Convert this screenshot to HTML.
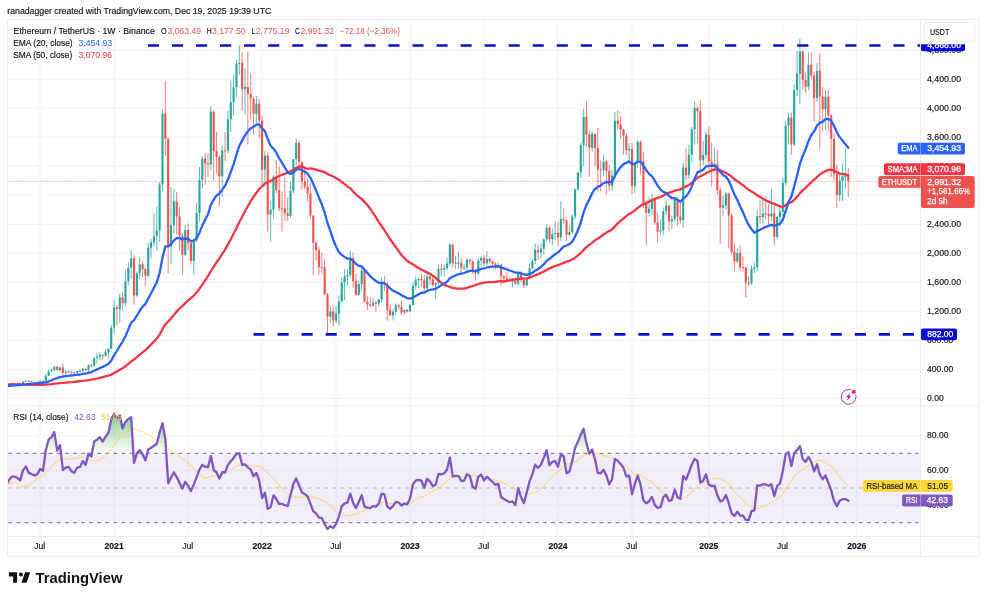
<!DOCTYPE html>
<html><head><meta charset="utf-8"><title>ETHUSDT chart</title><style>html,body{margin:0;padding:0;background:#fff}svg{display:block}</style></head><body>
<svg width="986" height="600" viewBox="0 0 986 600" font-family="'Liberation Sans', sans-serif">
<defs><clipPath id="cm"><rect x="7.5" y="19.5" width="913" height="386.5"/></clipPath>
<clipPath id="cr"><rect x="7.5" y="406" width="913" height="130.5"/></clipPath>
<linearGradient id="gg" gradientUnits="userSpaceOnUse" x1="0" y1="401.5" x2="0" y2="453.4"><stop offset="0" stop-color="#4caf50" stop-opacity="0.85"/><stop offset="1" stop-color="#4caf50" stop-opacity="0"/></linearGradient>
<clipPath id="ca"><rect x="900" y="44.2" width="86" height="40"/></clipPath>
</defs>
<rect width="986" height="600" fill="#fff"/>
<line x1="40.1" y1="19.5" x2="40.1" y2="536.5" stroke="#f2f3f6" stroke-width="1"/>
<line x1="114.1" y1="19.5" x2="114.1" y2="536.5" stroke="#f2f3f6" stroke-width="1"/>
<line x1="188.1" y1="19.5" x2="188.1" y2="536.5" stroke="#f2f3f6" stroke-width="1"/>
<line x1="262.1" y1="19.5" x2="262.1" y2="536.5" stroke="#f2f3f6" stroke-width="1"/>
<line x1="336.1" y1="19.5" x2="336.1" y2="536.5" stroke="#f2f3f6" stroke-width="1"/>
<line x1="410.0" y1="19.5" x2="410.0" y2="536.5" stroke="#f2f3f6" stroke-width="1"/>
<line x1="484.0" y1="19.5" x2="484.0" y2="536.5" stroke="#f2f3f6" stroke-width="1"/>
<line x1="558.0" y1="19.5" x2="558.0" y2="536.5" stroke="#f2f3f6" stroke-width="1"/>
<line x1="632.0" y1="19.5" x2="632.0" y2="536.5" stroke="#f2f3f6" stroke-width="1"/>
<line x1="708.8" y1="19.5" x2="708.8" y2="536.5" stroke="#f2f3f6" stroke-width="1"/>
<line x1="782.8" y1="19.5" x2="782.8" y2="536.5" stroke="#f2f3f6" stroke-width="1"/>
<line x1="856.8" y1="19.5" x2="856.8" y2="536.5" stroke="#f2f3f6" stroke-width="1"/>
<line x1="7.5" y1="398.4" x2="920.5" y2="398.4" stroke="#f2f3f6" stroke-width="1"/>
<line x1="7.5" y1="369.4" x2="920.5" y2="369.4" stroke="#f2f3f6" stroke-width="1"/>
<line x1="7.5" y1="340.4" x2="920.5" y2="340.4" stroke="#f2f3f6" stroke-width="1"/>
<line x1="7.5" y1="311.3" x2="920.5" y2="311.3" stroke="#f2f3f6" stroke-width="1"/>
<line x1="7.5" y1="282.3" x2="920.5" y2="282.3" stroke="#f2f3f6" stroke-width="1"/>
<line x1="7.5" y1="253.3" x2="920.5" y2="253.3" stroke="#f2f3f6" stroke-width="1"/>
<line x1="7.5" y1="224.3" x2="920.5" y2="224.3" stroke="#f2f3f6" stroke-width="1"/>
<line x1="7.5" y1="195.3" x2="920.5" y2="195.3" stroke="#f2f3f6" stroke-width="1"/>
<line x1="7.5" y1="166.2" x2="920.5" y2="166.2" stroke="#f2f3f6" stroke-width="1"/>
<line x1="7.5" y1="137.2" x2="920.5" y2="137.2" stroke="#f2f3f6" stroke-width="1"/>
<line x1="7.5" y1="108.2" x2="920.5" y2="108.2" stroke="#f2f3f6" stroke-width="1"/>
<line x1="7.5" y1="79.2" x2="920.5" y2="79.2" stroke="#f2f3f6" stroke-width="1"/>
<line x1="7.5" y1="50.2" x2="920.5" y2="50.2" stroke="#f2f3f6" stroke-width="1"/>
<line x1="7.5" y1="21.1" x2="920.5" y2="21.1" stroke="#f2f3f6" stroke-width="1"/>
<line x1="7.5" y1="436.1" x2="920.5" y2="436.1" stroke="#f2f3f6" stroke-width="1"/>
<line x1="7.5" y1="470.7" x2="920.5" y2="470.7" stroke="#f2f3f6" stroke-width="1"/>
<line x1="7.5" y1="505.3" x2="920.5" y2="505.3" stroke="#f2f3f6" stroke-width="1"/>
<rect x="7.5" y="453.4" width="913" height="69.2" fill="#7e57c2" fill-opacity="0.1"/>
<line x1="8.3" y1="453.4" x2="918.5" y2="453.4" stroke="#85878f" stroke-width="1.1" stroke-dasharray="3.7 4.4"/>
<line x1="8.3" y1="488.0" x2="918.5" y2="488.0" stroke="#b4b6be" stroke-width="1.1" stroke-dasharray="3.7 4.4"/>
<line x1="8.3" y1="522.6" x2="918.5" y2="522.6" stroke="#85878f" stroke-width="1.1" stroke-dasharray="3.7 4.4"/>
<line x1="7.5" y1="181.4" x2="920.5" y2="181.4" stroke="#ef5350" stroke-width="1" stroke-dasharray="1 2" opacity="0.8"/>
<g clip-path="url(#cm)" shape-rendering="auto">
<path d="M5.97 385.1V387.3" stroke="#26a69a" stroke-width="0.9" opacity="0.85"/>
<rect x="4.92" y="385.3" width="2.1" height="1.7" fill="#26a69a"/>
<path d="M8.81 384.0V386.1" stroke="#26a69a" stroke-width="0.9" opacity="0.85"/>
<rect x="7.76" y="384.1" width="2.1" height="1.2" fill="#26a69a"/>
<path d="M11.66 382.6V384.4" stroke="#26a69a" stroke-width="0.9" opacity="0.85"/>
<rect x="10.61" y="383.2" width="2.1" height="1.0" fill="#26a69a"/>
<path d="M14.50 382.8V383.6" stroke="#26a69a" stroke-width="0.9" opacity="0.85"/>
<rect x="13.45" y="383.2" width="2.1" height="1.0" fill="#26a69a"/>
<path d="M17.35 382.7V383.6" stroke="#ef5350" stroke-width="0.9" opacity="0.85"/>
<rect x="16.30" y="383.2" width="2.1" height="1.0" fill="#ef5350"/>
<path d="M20.20 382.6V384.8" stroke="#ef5350" stroke-width="0.9" opacity="0.85"/>
<rect x="19.15" y="383.4" width="2.1" height="1.0" fill="#ef5350"/>
<path d="M23.04 381.1V384.4" stroke="#26a69a" stroke-width="0.9" opacity="0.85"/>
<rect x="21.99" y="381.6" width="2.1" height="2.2" fill="#26a69a"/>
<path d="M25.89 380.5V381.9" stroke="#26a69a" stroke-width="0.9" opacity="0.85"/>
<rect x="24.84" y="380.7" width="2.1" height="1.0" fill="#26a69a"/>
<path d="M28.73 380.2V382.1" stroke="#ef5350" stroke-width="0.9" opacity="0.85"/>
<rect x="27.68" y="380.7" width="2.1" height="1.0" fill="#ef5350"/>
<path d="M31.58 380.8V382.2" stroke="#ef5350" stroke-width="0.9" opacity="0.85"/>
<rect x="30.53" y="381.6" width="2.1" height="1.0" fill="#ef5350"/>
<path d="M34.42 381.7V383.2" stroke="#ef5350" stroke-width="0.9" opacity="0.85"/>
<rect x="33.37" y="381.9" width="2.1" height="1.0" fill="#ef5350"/>
<path d="M37.27 381.3V382.4" stroke="#26a69a" stroke-width="0.9" opacity="0.85"/>
<rect x="36.22" y="381.9" width="2.1" height="1.0" fill="#26a69a"/>
<path d="M40.11 380.2V382.1" stroke="#26a69a" stroke-width="0.9" opacity="0.85"/>
<rect x="39.06" y="380.8" width="2.1" height="1.0" fill="#26a69a"/>
<path d="M42.96 380.2V382.3" stroke="#ef5350" stroke-width="0.9" opacity="0.85"/>
<rect x="41.91" y="380.8" width="2.1" height="1.0" fill="#ef5350"/>
<path d="M45.81 374.1V381.5" stroke="#26a69a" stroke-width="0.9" opacity="0.85"/>
<rect x="44.76" y="375.8" width="2.1" height="5.2" fill="#26a69a"/>
<path d="M48.65 369.7V376.3" stroke="#26a69a" stroke-width="0.9" opacity="0.85"/>
<rect x="47.60" y="371.4" width="2.1" height="4.4" fill="#26a69a"/>
<path d="M51.50 368.3V371.9" stroke="#26a69a" stroke-width="0.9" opacity="0.85"/>
<rect x="50.45" y="370.1" width="2.1" height="1.3" fill="#26a69a"/>
<path d="M54.34 366.1V371.9" stroke="#26a69a" stroke-width="0.9" opacity="0.85"/>
<rect x="53.29" y="367.0" width="2.1" height="3.1" fill="#26a69a"/>
<path d="M57.19 366.0V370.8" stroke="#ef5350" stroke-width="0.9" opacity="0.85"/>
<rect x="56.14" y="367.0" width="2.1" height="3.0" fill="#ef5350"/>
<path d="M60.03 367.0V371.6" stroke="#26a69a" stroke-width="0.9" opacity="0.85"/>
<rect x="58.98" y="367.3" width="2.1" height="2.7" fill="#26a69a"/>
<path d="M62.88 362.9V375.9" stroke="#ef5350" stroke-width="0.9" opacity="0.85"/>
<rect x="61.83" y="367.3" width="2.1" height="5.4" fill="#ef5350"/>
<path d="M65.72 369.7V375.2" stroke="#26a69a" stroke-width="0.9" opacity="0.85"/>
<rect x="64.67" y="371.8" width="2.1" height="1.0" fill="#26a69a"/>
<path d="M68.57 369.7V372.9" stroke="#26a69a" stroke-width="0.9" opacity="0.85"/>
<rect x="67.52" y="371.5" width="2.1" height="1.0" fill="#26a69a"/>
<path d="M71.42 371.0V375.7" stroke="#ef5350" stroke-width="0.9" opacity="0.85"/>
<rect x="70.37" y="371.5" width="2.1" height="1.0" fill="#ef5350"/>
<path d="M74.26 371.4V374.3" stroke="#ef5350" stroke-width="0.9" opacity="0.85"/>
<rect x="73.21" y="372.5" width="2.1" height="1.0" fill="#ef5350"/>
<path d="M77.11 370.8V374.1" stroke="#26a69a" stroke-width="0.9" opacity="0.85"/>
<rect x="76.06" y="371.2" width="2.1" height="1.7" fill="#26a69a"/>
<path d="M79.95 369.7V372.1" stroke="#26a69a" stroke-width="0.9" opacity="0.85"/>
<rect x="78.90" y="371.0" width="2.1" height="1.0" fill="#26a69a"/>
<path d="M82.80 367.8V371.9" stroke="#26a69a" stroke-width="0.9" opacity="0.85"/>
<rect x="81.75" y="368.9" width="2.1" height="2.0" fill="#26a69a"/>
<path d="M85.64 367.9V371.4" stroke="#ef5350" stroke-width="0.9" opacity="0.85"/>
<rect x="84.59" y="368.9" width="2.1" height="1.0" fill="#ef5350"/>
<path d="M88.49 364.3V371.6" stroke="#26a69a" stroke-width="0.9" opacity="0.85"/>
<rect x="87.44" y="365.5" width="2.1" height="4.2" fill="#26a69a"/>
<path d="M91.34 363.7V367.2" stroke="#ef5350" stroke-width="0.9" opacity="0.85"/>
<rect x="90.29" y="365.5" width="2.1" height="1.0" fill="#ef5350"/>
<path d="M94.18 357.8V366.5" stroke="#26a69a" stroke-width="0.9" opacity="0.85"/>
<rect x="93.13" y="357.9" width="2.1" height="8.1" fill="#26a69a"/>
<path d="M97.03 353.1V363.6" stroke="#26a69a" stroke-width="0.9" opacity="0.85"/>
<rect x="95.98" y="356.7" width="2.1" height="1.2" fill="#26a69a"/>
<path d="M99.87 352.3V359.9" stroke="#26a69a" stroke-width="0.9" opacity="0.85"/>
<rect x="98.82" y="354.8" width="2.1" height="1.9" fill="#26a69a"/>
<path d="M102.72 354.3V359.9" stroke="#ef5350" stroke-width="0.9" opacity="0.85"/>
<rect x="101.67" y="354.8" width="2.1" height="1.0" fill="#ef5350"/>
<path d="M105.56 349.4V356.7" stroke="#26a69a" stroke-width="0.9" opacity="0.85"/>
<rect x="104.51" y="352.1" width="2.1" height="3.6" fill="#26a69a"/>
<path d="M108.41 348.3V358.5" stroke="#26a69a" stroke-width="0.9" opacity="0.85"/>
<rect x="107.36" y="348.9" width="2.1" height="3.2" fill="#26a69a"/>
<path d="M111.25 325.0V349.1" stroke="#26a69a" stroke-width="0.9" opacity="0.85"/>
<rect x="110.20" y="327.7" width="2.1" height="21.3" fill="#26a69a"/>
<path d="M114.10 300.5V333.8" stroke="#26a69a" stroke-width="0.9" opacity="0.85"/>
<rect x="113.05" y="307.3" width="2.1" height="20.3" fill="#26a69a"/>
<path d="M116.95 304.8V325.4" stroke="#ef5350" stroke-width="0.9" opacity="0.85"/>
<rect x="115.90" y="307.3" width="2.1" height="1.7" fill="#ef5350"/>
<path d="M119.79 293.9V322.9" stroke="#26a69a" stroke-width="0.9" opacity="0.85"/>
<rect x="118.74" y="297.4" width="2.1" height="11.7" fill="#26a69a"/>
<path d="M122.64 291.4V310.8" stroke="#ef5350" stroke-width="0.9" opacity="0.85"/>
<rect x="121.59" y="297.4" width="2.1" height="5.8" fill="#ef5350"/>
<path d="M125.48 270.7V306.3" stroke="#26a69a" stroke-width="0.9" opacity="0.85"/>
<rect x="124.43" y="281.3" width="2.1" height="21.9" fill="#26a69a"/>
<path d="M128.33 262.4V285.6" stroke="#26a69a" stroke-width="0.9" opacity="0.85"/>
<rect x="127.28" y="267.8" width="2.1" height="13.5" fill="#26a69a"/>
<path d="M131.17 250.3V278.3" stroke="#26a69a" stroke-width="0.9" opacity="0.85"/>
<rect x="130.12" y="258.2" width="2.1" height="9.6" fill="#26a69a"/>
<path d="M134.02 255.1V304.6" stroke="#ef5350" stroke-width="0.9" opacity="0.85"/>
<rect x="132.97" y="258.2" width="2.1" height="37.3" fill="#ef5350"/>
<path d="M136.86 271.4V296.8" stroke="#26a69a" stroke-width="0.9" opacity="0.85"/>
<rect x="135.81" y="273.2" width="2.1" height="22.3" fill="#26a69a"/>
<path d="M139.71 257.4V279.4" stroke="#26a69a" stroke-width="0.9" opacity="0.85"/>
<rect x="138.66" y="264.3" width="2.1" height="8.9" fill="#26a69a"/>
<path d="M142.56 260.9V277.2" stroke="#ef5350" stroke-width="0.9" opacity="0.85"/>
<rect x="141.51" y="264.3" width="2.1" height="4.7" fill="#ef5350"/>
<path d="M145.40 266.7V286.3" stroke="#ef5350" stroke-width="0.9" opacity="0.85"/>
<rect x="144.35" y="269.0" width="2.1" height="6.7" fill="#ef5350"/>
<path d="M148.25 242.7V277.2" stroke="#26a69a" stroke-width="0.9" opacity="0.85"/>
<rect x="147.20" y="247.9" width="2.1" height="27.9" fill="#26a69a"/>
<path d="M151.09 238.8V258.4" stroke="#26a69a" stroke-width="0.9" opacity="0.85"/>
<rect x="150.04" y="242.3" width="2.1" height="5.5" fill="#26a69a"/>
<path d="M153.94 213.5V246.0" stroke="#26a69a" stroke-width="0.9" opacity="0.85"/>
<rect x="152.89" y="236.2" width="2.1" height="6.2" fill="#26a69a"/>
<path d="M156.78 206.5V250.4" stroke="#26a69a" stroke-width="0.9" opacity="0.85"/>
<rect x="155.73" y="230.4" width="2.1" height="5.8" fill="#26a69a"/>
<path d="M159.63 181.8V241.7" stroke="#26a69a" stroke-width="0.9" opacity="0.85"/>
<rect x="158.58" y="184.4" width="2.1" height="46.0" fill="#26a69a"/>
<path d="M162.48 109.4V191.6" stroke="#26a69a" stroke-width="0.9" opacity="0.85"/>
<rect x="161.43" y="113.7" width="2.1" height="70.7" fill="#26a69a"/>
<path d="M165.32 81.2V156.1" stroke="#ef5350" stroke-width="0.9" opacity="0.85"/>
<rect x="164.27" y="113.7" width="2.1" height="25.0" fill="#ef5350"/>
<path d="M168.17 137.9V273.0" stroke="#ef5350" stroke-width="0.9" opacity="0.85"/>
<rect x="167.12" y="138.7" width="2.1" height="107.7" fill="#ef5350"/>
<path d="M171.01 187.3V264.5" stroke="#26a69a" stroke-width="0.9" opacity="0.85"/>
<rect x="169.96" y="225.4" width="2.1" height="21.0" fill="#26a69a"/>
<path d="M173.86 188.7V233.7" stroke="#26a69a" stroke-width="0.9" opacity="0.85"/>
<rect x="172.81" y="201.6" width="2.1" height="23.7" fill="#26a69a"/>
<path d="M176.70 192.0V234.4" stroke="#ef5350" stroke-width="0.9" opacity="0.85"/>
<rect x="175.65" y="201.6" width="2.1" height="14.8" fill="#ef5350"/>
<path d="M179.55 206.9V250.4" stroke="#ef5350" stroke-width="0.9" opacity="0.85"/>
<rect x="178.50" y="216.4" width="2.1" height="19.2" fill="#ef5350"/>
<path d="M182.39 233.0V275.1" stroke="#ef5350" stroke-width="0.9" opacity="0.85"/>
<rect x="181.34" y="235.7" width="2.1" height="19.0" fill="#ef5350"/>
<path d="M185.24 225.0V256.2" stroke="#26a69a" stroke-width="0.9" opacity="0.85"/>
<rect x="184.19" y="229.9" width="2.1" height="24.7" fill="#26a69a"/>
<path d="M188.09 223.6V250.0" stroke="#ef5350" stroke-width="0.9" opacity="0.85"/>
<rect x="187.04" y="229.9" width="2.1" height="13.3" fill="#ef5350"/>
<path d="M190.93 241.0V264.5" stroke="#ef5350" stroke-width="0.9" opacity="0.85"/>
<rect x="189.88" y="243.2" width="2.1" height="17.8" fill="#ef5350"/>
<path d="M193.78 238.8V274.6" stroke="#26a69a" stroke-width="0.9" opacity="0.85"/>
<rect x="192.73" y="239.5" width="2.1" height="21.5" fill="#26a69a"/>
<path d="M196.62 202.5V242.4" stroke="#26a69a" stroke-width="0.9" opacity="0.85"/>
<rect x="195.57" y="213.0" width="2.1" height="26.6" fill="#26a69a"/>
<path d="M199.47 167.0V221.4" stroke="#26a69a" stroke-width="0.9" opacity="0.85"/>
<rect x="198.42" y="179.9" width="2.1" height="33.1" fill="#26a69a"/>
<path d="M202.31 156.4V188.7" stroke="#26a69a" stroke-width="0.9" opacity="0.85"/>
<rect x="201.26" y="158.5" width="2.1" height="21.4" fill="#26a69a"/>
<path d="M205.16 153.2V184.4" stroke="#ef5350" stroke-width="0.9" opacity="0.85"/>
<rect x="204.11" y="158.5" width="2.1" height="4.9" fill="#ef5350"/>
<path d="M208.00 153.2V177.1" stroke="#ef5350" stroke-width="0.9" opacity="0.85"/>
<rect x="206.95" y="163.4" width="2.1" height="1.0" fill="#ef5350"/>
<path d="M210.85 106.2V170.6" stroke="#26a69a" stroke-width="0.9" opacity="0.85"/>
<rect x="209.80" y="111.8" width="2.1" height="52.6" fill="#26a69a"/>
<path d="M213.70 110.4V180.7" stroke="#ef5350" stroke-width="0.9" opacity="0.85"/>
<rect x="212.65" y="111.8" width="2.1" height="39.4" fill="#ef5350"/>
<path d="M216.54 131.8V173.5" stroke="#ef5350" stroke-width="0.9" opacity="0.85"/>
<rect x="215.49" y="151.2" width="2.1" height="5.7" fill="#ef5350"/>
<path d="M219.39 155.4V206.1" stroke="#ef5350" stroke-width="0.9" opacity="0.85"/>
<rect x="218.34" y="157.0" width="2.1" height="19.4" fill="#ef5350"/>
<path d="M222.23 145.2V196.7" stroke="#26a69a" stroke-width="0.9" opacity="0.85"/>
<rect x="221.18" y="150.4" width="2.1" height="25.9" fill="#26a69a"/>
<path d="M225.08 132.1V161.2" stroke="#ef5350" stroke-width="0.9" opacity="0.85"/>
<rect x="224.03" y="150.4" width="2.1" height="1.0" fill="#ef5350"/>
<path d="M227.92 110.4V153.9" stroke="#26a69a" stroke-width="0.9" opacity="0.85"/>
<rect x="226.87" y="119.3" width="2.1" height="31.3" fill="#26a69a"/>
<path d="M230.77 81.0V131.8" stroke="#26a69a" stroke-width="0.9" opacity="0.85"/>
<rect x="229.72" y="102.2" width="2.1" height="17.1" fill="#26a69a"/>
<path d="M233.62 74.8V116.2" stroke="#26a69a" stroke-width="0.9" opacity="0.85"/>
<rect x="232.57" y="87.3" width="2.1" height="14.9" fill="#26a69a"/>
<path d="M236.46 59.6V97.3" stroke="#26a69a" stroke-width="0.9" opacity="0.85"/>
<rect x="235.41" y="63.5" width="2.1" height="23.8" fill="#26a69a"/>
<path d="M239.31 45.2V74.8" stroke="#26a69a" stroke-width="0.9" opacity="0.85"/>
<rect x="238.26" y="62.8" width="2.1" height="1.0" fill="#26a69a"/>
<path d="M242.15 52.3V111.1" stroke="#ef5350" stroke-width="0.9" opacity="0.85"/>
<rect x="241.10" y="62.8" width="2.1" height="26.4" fill="#ef5350"/>
<path d="M245.00 68.3V114.4" stroke="#26a69a" stroke-width="0.9" opacity="0.85"/>
<rect x="243.95" y="86.9" width="2.1" height="2.3" fill="#26a69a"/>
<path d="M247.84 51.6V144.5" stroke="#ef5350" stroke-width="0.9" opacity="0.85"/>
<rect x="246.79" y="86.9" width="2.1" height="7.1" fill="#ef5350"/>
<path d="M250.69 72.7V119.8" stroke="#ef5350" stroke-width="0.9" opacity="0.85"/>
<rect x="249.64" y="94.0" width="2.1" height="4.5" fill="#ef5350"/>
<path d="M253.53 97.3V134.3" stroke="#ef5350" stroke-width="0.9" opacity="0.85"/>
<rect x="252.48" y="98.5" width="2.1" height="15.4" fill="#ef5350"/>
<path d="M256.38 95.9V126.0" stroke="#26a69a" stroke-width="0.9" opacity="0.85"/>
<rect x="255.33" y="103.6" width="2.1" height="10.2" fill="#26a69a"/>
<path d="M259.23 98.8V138.3" stroke="#ef5350" stroke-width="0.9" opacity="0.85"/>
<rect x="258.18" y="103.6" width="2.1" height="17.0" fill="#ef5350"/>
<path d="M262.07 115.5V185.8" stroke="#ef5350" stroke-width="0.9" opacity="0.85"/>
<rect x="261.02" y="120.6" width="2.1" height="49.1" fill="#ef5350"/>
<path d="M264.92 151.0V186.2" stroke="#26a69a" stroke-width="0.9" opacity="0.85"/>
<rect x="263.87" y="155.6" width="2.1" height="14.1" fill="#26a69a"/>
<path d="M267.76 152.5V231.5" stroke="#ef5350" stroke-width="0.9" opacity="0.85"/>
<rect x="266.71" y="155.6" width="2.1" height="58.9" fill="#ef5350"/>
<path d="M270.61 200.7V241.7" stroke="#26a69a" stroke-width="0.9" opacity="0.85"/>
<rect x="269.56" y="209.7" width="2.1" height="4.8" fill="#26a69a"/>
<path d="M273.45 174.9V218.5" stroke="#26a69a" stroke-width="0.9" opacity="0.85"/>
<rect x="272.40" y="176.6" width="2.1" height="33.1" fill="#26a69a"/>
<path d="M276.30 160.1V193.4" stroke="#ef5350" stroke-width="0.9" opacity="0.85"/>
<rect x="275.25" y="176.6" width="2.1" height="13.6" fill="#ef5350"/>
<path d="M279.14 166.2V211.2" stroke="#ef5350" stroke-width="0.9" opacity="0.85"/>
<rect x="278.09" y="190.2" width="2.1" height="18.1" fill="#ef5350"/>
<path d="M281.99 191.6V231.5" stroke="#ef5350" stroke-width="0.9" opacity="0.85"/>
<rect x="280.94" y="208.2" width="2.1" height="1.0" fill="#ef5350"/>
<path d="M284.84 177.8V221.0" stroke="#ef5350" stroke-width="0.9" opacity="0.85"/>
<rect x="283.79" y="208.5" width="2.1" height="4.9" fill="#ef5350"/>
<path d="M287.68 197.1V221.0" stroke="#ef5350" stroke-width="0.9" opacity="0.85"/>
<rect x="286.63" y="213.4" width="2.1" height="2.5" fill="#ef5350"/>
<path d="M290.53 181.8V217.8" stroke="#26a69a" stroke-width="0.9" opacity="0.85"/>
<rect x="289.48" y="190.9" width="2.1" height="25.0" fill="#26a69a"/>
<path d="M293.37 159.0V193.1" stroke="#26a69a" stroke-width="0.9" opacity="0.85"/>
<rect x="292.32" y="159.3" width="2.1" height="31.6" fill="#26a69a"/>
<path d="M296.22 138.7V165.5" stroke="#26a69a" stroke-width="0.9" opacity="0.85"/>
<rect x="295.17" y="143.0" width="2.1" height="16.3" fill="#26a69a"/>
<path d="M299.06 140.8V170.6" stroke="#ef5350" stroke-width="0.9" opacity="0.85"/>
<rect x="298.01" y="143.0" width="2.1" height="18.8" fill="#ef5350"/>
<path d="M301.91 161.5V189.5" stroke="#ef5350" stroke-width="0.9" opacity="0.85"/>
<rect x="300.86" y="161.8" width="2.1" height="19.8" fill="#ef5350"/>
<path d="M304.76 167.7V189.5" stroke="#ef5350" stroke-width="0.9" opacity="0.85"/>
<rect x="303.71" y="181.6" width="2.1" height="4.9" fill="#ef5350"/>
<path d="M307.60 177.8V201.4" stroke="#ef5350" stroke-width="0.9" opacity="0.85"/>
<rect x="306.55" y="186.6" width="2.1" height="6.9" fill="#ef5350"/>
<path d="M310.45 183.3V218.1" stroke="#ef5350" stroke-width="0.9" opacity="0.85"/>
<rect x="309.40" y="193.4" width="2.1" height="22.3" fill="#ef5350"/>
<path d="M313.29 214.8V275.1" stroke="#ef5350" stroke-width="0.9" opacity="0.85"/>
<rect x="312.24" y="215.8" width="2.1" height="27.1" fill="#ef5350"/>
<path d="M316.14 241.7V260.6" stroke="#ef5350" stroke-width="0.9" opacity="0.85"/>
<rect x="315.09" y="242.9" width="2.1" height="7.4" fill="#ef5350"/>
<path d="M318.98 246.8V275.1" stroke="#ef5350" stroke-width="0.9" opacity="0.85"/>
<rect x="317.93" y="250.3" width="2.1" height="16.7" fill="#ef5350"/>
<path d="M321.83 252.2V273.6" stroke="#ef5350" stroke-width="0.9" opacity="0.85"/>
<rect x="320.78" y="267.0" width="2.1" height="1.0" fill="#ef5350"/>
<path d="M324.67 259.1V295.4" stroke="#ef5350" stroke-width="0.9" opacity="0.85"/>
<rect x="323.62" y="267.5" width="2.1" height="26.9" fill="#ef5350"/>
<path d="M327.52 292.8V334.4" stroke="#ef5350" stroke-width="0.9" opacity="0.85"/>
<rect x="326.47" y="294.4" width="2.1" height="22.2" fill="#ef5350"/>
<path d="M330.37 305.5V322.6" stroke="#26a69a" stroke-width="0.9" opacity="0.85"/>
<rect x="329.32" y="311.5" width="2.1" height="5.2" fill="#26a69a"/>
<path d="M333.21 305.5V326.2" stroke="#ef5350" stroke-width="0.9" opacity="0.85"/>
<rect x="332.16" y="311.5" width="2.1" height="9.1" fill="#ef5350"/>
<path d="M336.06 305.9V322.9" stroke="#26a69a" stroke-width="0.9" opacity="0.85"/>
<rect x="335.01" y="313.7" width="2.1" height="6.8" fill="#26a69a"/>
<path d="M338.90 295.4V325.5" stroke="#26a69a" stroke-width="0.9" opacity="0.85"/>
<rect x="337.85" y="301.3" width="2.1" height="12.4" fill="#26a69a"/>
<path d="M341.75 277.6V302.6" stroke="#26a69a" stroke-width="0.9" opacity="0.85"/>
<rect x="340.70" y="282.5" width="2.1" height="18.9" fill="#26a69a"/>
<path d="M344.59 268.9V300.1" stroke="#26a69a" stroke-width="0.9" opacity="0.85"/>
<rect x="343.54" y="276.5" width="2.1" height="5.9" fill="#26a69a"/>
<path d="M347.44 268.9V285.6" stroke="#26a69a" stroke-width="0.9" opacity="0.85"/>
<rect x="346.39" y="275.1" width="2.1" height="1.5" fill="#26a69a"/>
<path d="M350.28 251.1V277.6" stroke="#26a69a" stroke-width="0.9" opacity="0.85"/>
<rect x="349.23" y="258.0" width="2.1" height="17.0" fill="#26a69a"/>
<path d="M353.13 252.6V287.8" stroke="#ef5350" stroke-width="0.9" opacity="0.85"/>
<rect x="352.08" y="258.0" width="2.1" height="23.0" fill="#ef5350"/>
<path d="M355.98 273.6V295.4" stroke="#ef5350" stroke-width="0.9" opacity="0.85"/>
<rect x="354.93" y="281.0" width="2.1" height="13.8" fill="#ef5350"/>
<path d="M358.82 280.9V295.4" stroke="#26a69a" stroke-width="0.9" opacity="0.85"/>
<rect x="357.77" y="284.0" width="2.1" height="10.8" fill="#26a69a"/>
<path d="M361.67 268.5V290.3" stroke="#26a69a" stroke-width="0.9" opacity="0.85"/>
<rect x="360.62" y="270.6" width="2.1" height="13.3" fill="#26a69a"/>
<path d="M364.51 269.3V302.6" stroke="#ef5350" stroke-width="0.9" opacity="0.85"/>
<rect x="363.46" y="270.6" width="2.1" height="31.0" fill="#ef5350"/>
<path d="M367.36 296.1V309.9" stroke="#ef5350" stroke-width="0.9" opacity="0.85"/>
<rect x="366.31" y="301.6" width="2.1" height="2.9" fill="#ef5350"/>
<path d="M370.20 296.8V307.3" stroke="#ef5350" stroke-width="0.9" opacity="0.85"/>
<rect x="369.15" y="304.5" width="2.1" height="1.3" fill="#ef5350"/>
<path d="M373.05 297.9V306.6" stroke="#26a69a" stroke-width="0.9" opacity="0.85"/>
<rect x="372.00" y="302.5" width="2.1" height="3.3" fill="#26a69a"/>
<path d="M375.90 300.8V312.1" stroke="#ef5350" stroke-width="0.9" opacity="0.85"/>
<rect x="374.85" y="302.5" width="2.1" height="1.2" fill="#ef5350"/>
<path d="M378.74 298.6V307.0" stroke="#26a69a" stroke-width="0.9" opacity="0.85"/>
<rect x="377.69" y="299.5" width="2.1" height="4.1" fill="#26a69a"/>
<path d="M381.59 277.6V302.6" stroke="#26a69a" stroke-width="0.9" opacity="0.85"/>
<rect x="380.54" y="283.0" width="2.1" height="16.5" fill="#26a69a"/>
<path d="M384.43 276.5V291.0" stroke="#ef5350" stroke-width="0.9" opacity="0.85"/>
<rect x="383.38" y="283.0" width="2.1" height="1.5" fill="#ef5350"/>
<path d="M387.28 281.6V320.6" stroke="#ef5350" stroke-width="0.9" opacity="0.85"/>
<rect x="386.23" y="284.5" width="2.1" height="25.2" fill="#ef5350"/>
<path d="M390.12 304.8V315.5" stroke="#ef5350" stroke-width="0.9" opacity="0.85"/>
<rect x="389.07" y="309.7" width="2.1" height="5.8" fill="#ef5350"/>
<path d="M392.97 309.2V320.4" stroke="#26a69a" stroke-width="0.9" opacity="0.85"/>
<rect x="391.92" y="311.7" width="2.1" height="3.8" fill="#26a69a"/>
<path d="M395.81 303.4V315.0" stroke="#26a69a" stroke-width="0.9" opacity="0.85"/>
<rect x="394.76" y="305.5" width="2.1" height="6.2" fill="#26a69a"/>
<path d="M398.66 303.7V310.3" stroke="#ef5350" stroke-width="0.9" opacity="0.85"/>
<rect x="397.61" y="305.5" width="2.1" height="1.2" fill="#ef5350"/>
<path d="M401.51 300.5V315.0" stroke="#ef5350" stroke-width="0.9" opacity="0.85"/>
<rect x="400.46" y="306.8" width="2.1" height="5.7" fill="#ef5350"/>
<path d="M404.35 309.2V315.0" stroke="#26a69a" stroke-width="0.9" opacity="0.85"/>
<rect x="403.30" y="310.0" width="2.1" height="2.5" fill="#26a69a"/>
<path d="M407.20 308.8V312.8" stroke="#ef5350" stroke-width="0.9" opacity="0.85"/>
<rect x="406.15" y="310.0" width="2.1" height="1.3" fill="#ef5350"/>
<path d="M410.04 304.4V312.1" stroke="#26a69a" stroke-width="0.9" opacity="0.85"/>
<rect x="408.99" y="305.0" width="2.1" height="6.3" fill="#26a69a"/>
<path d="M412.89 282.3V305.5" stroke="#26a69a" stroke-width="0.9" opacity="0.85"/>
<rect x="411.84" y="285.8" width="2.1" height="19.2" fill="#26a69a"/>
<path d="M415.73 276.5V289.6" stroke="#26a69a" stroke-width="0.9" opacity="0.85"/>
<rect x="414.68" y="280.4" width="2.1" height="5.4" fill="#26a69a"/>
<path d="M418.58 277.6V288.1" stroke="#26a69a" stroke-width="0.9" opacity="0.85"/>
<rect x="417.53" y="279.1" width="2.1" height="1.3" fill="#26a69a"/>
<path d="M421.42 274.0V287.0" stroke="#ef5350" stroke-width="0.9" opacity="0.85"/>
<rect x="420.37" y="279.1" width="2.1" height="1.0" fill="#ef5350"/>
<path d="M424.27 275.1V290.3" stroke="#ef5350" stroke-width="0.9" opacity="0.85"/>
<rect x="423.22" y="280.1" width="2.1" height="8.4" fill="#ef5350"/>
<path d="M427.12 271.8V292.5" stroke="#26a69a" stroke-width="0.9" opacity="0.85"/>
<rect x="426.07" y="276.4" width="2.1" height="12.0" fill="#26a69a"/>
<path d="M429.96 273.6V285.2" stroke="#ef5350" stroke-width="0.9" opacity="0.85"/>
<rect x="428.91" y="276.4" width="2.1" height="3.0" fill="#ef5350"/>
<path d="M432.81 275.8V286.7" stroke="#ef5350" stroke-width="0.9" opacity="0.85"/>
<rect x="431.76" y="279.4" width="2.1" height="5.5" fill="#ef5350"/>
<path d="M435.65 282.3V299.0" stroke="#26a69a" stroke-width="0.9" opacity="0.85"/>
<rect x="434.60" y="283.0" width="2.1" height="1.9" fill="#26a69a"/>
<path d="M438.50 264.5V284.5" stroke="#26a69a" stroke-width="0.9" opacity="0.85"/>
<rect x="437.45" y="268.9" width="2.1" height="14.1" fill="#26a69a"/>
<path d="M441.34 263.5V276.5" stroke="#ef5350" stroke-width="0.9" opacity="0.85"/>
<rect x="440.29" y="268.9" width="2.1" height="1.0" fill="#ef5350"/>
<path d="M444.19 264.2V276.2" stroke="#26a69a" stroke-width="0.9" opacity="0.85"/>
<rect x="443.14" y="268.2" width="2.1" height="1.5" fill="#26a69a"/>
<path d="M447.04 257.3V270.3" stroke="#26a69a" stroke-width="0.9" opacity="0.85"/>
<rect x="445.99" y="263.5" width="2.1" height="4.7" fill="#26a69a"/>
<path d="M449.88 243.1V266.0" stroke="#26a69a" stroke-width="0.9" opacity="0.85"/>
<rect x="448.83" y="244.6" width="2.1" height="18.9" fill="#26a69a"/>
<path d="M452.73 243.9V267.8" stroke="#ef5350" stroke-width="0.9" opacity="0.85"/>
<rect x="451.68" y="244.6" width="2.1" height="18.7" fill="#ef5350"/>
<path d="M455.57 255.8V268.9" stroke="#26a69a" stroke-width="0.9" opacity="0.85"/>
<rect x="454.52" y="262.7" width="2.1" height="1.0" fill="#26a69a"/>
<path d="M458.42 251.8V268.9" stroke="#26a69a" stroke-width="0.9" opacity="0.85"/>
<rect x="457.37" y="262.7" width="2.1" height="1.0" fill="#26a69a"/>
<path d="M461.26 258.7V272.2" stroke="#ef5350" stroke-width="0.9" opacity="0.85"/>
<rect x="460.21" y="262.7" width="2.1" height="5.2" fill="#ef5350"/>
<path d="M464.11 264.2V270.0" stroke="#26a69a" stroke-width="0.9" opacity="0.85"/>
<rect x="463.06" y="267.4" width="2.1" height="1.0" fill="#26a69a"/>
<path d="M466.95 258.4V270.7" stroke="#26a69a" stroke-width="0.9" opacity="0.85"/>
<rect x="465.90" y="259.8" width="2.1" height="7.6" fill="#26a69a"/>
<path d="M469.80 258.7V264.9" stroke="#ef5350" stroke-width="0.9" opacity="0.85"/>
<rect x="468.75" y="259.8" width="2.1" height="1.5" fill="#ef5350"/>
<path d="M472.65 260.6V273.6" stroke="#ef5350" stroke-width="0.9" opacity="0.85"/>
<rect x="471.60" y="261.3" width="2.1" height="10.0" fill="#ef5350"/>
<path d="M475.49 269.3V280.5" stroke="#ef5350" stroke-width="0.9" opacity="0.85"/>
<rect x="474.44" y="271.3" width="2.1" height="2.3" fill="#ef5350"/>
<path d="M478.34 258.0V275.1" stroke="#26a69a" stroke-width="0.9" opacity="0.85"/>
<rect x="477.29" y="260.6" width="2.1" height="13.1" fill="#26a69a"/>
<path d="M481.18 256.2V266.7" stroke="#26a69a" stroke-width="0.9" opacity="0.85"/>
<rect x="480.13" y="257.9" width="2.1" height="2.7" fill="#26a69a"/>
<path d="M484.03 255.1V266.0" stroke="#ef5350" stroke-width="0.9" opacity="0.85"/>
<rect x="482.98" y="257.9" width="2.1" height="5.4" fill="#ef5350"/>
<path d="M486.87 251.1V264.9" stroke="#26a69a" stroke-width="0.9" opacity="0.85"/>
<rect x="485.82" y="259.0" width="2.1" height="4.3" fill="#26a69a"/>
<path d="M489.72 257.3V263.1" stroke="#ef5350" stroke-width="0.9" opacity="0.85"/>
<rect x="488.67" y="259.0" width="2.1" height="2.3" fill="#ef5350"/>
<path d="M492.56 260.2V265.6" stroke="#ef5350" stroke-width="0.9" opacity="0.85"/>
<rect x="491.51" y="261.3" width="2.1" height="2.2" fill="#ef5350"/>
<path d="M495.41 262.0V269.3" stroke="#ef5350" stroke-width="0.9" opacity="0.85"/>
<rect x="494.36" y="263.5" width="2.1" height="2.4" fill="#ef5350"/>
<path d="M498.26 262.4V267.8" stroke="#26a69a" stroke-width="0.9" opacity="0.85"/>
<rect x="497.21" y="264.9" width="2.1" height="1.0" fill="#26a69a"/>
<path d="M501.10 263.5V285.9" stroke="#ef5350" stroke-width="0.9" opacity="0.85"/>
<rect x="500.05" y="264.9" width="2.1" height="11.3" fill="#ef5350"/>
<path d="M503.95 275.1V284.1" stroke="#ef5350" stroke-width="0.9" opacity="0.85"/>
<rect x="502.90" y="276.2" width="2.1" height="2.0" fill="#ef5350"/>
<path d="M506.79 271.8V282.3" stroke="#ef5350" stroke-width="0.9" opacity="0.85"/>
<rect x="505.74" y="278.2" width="2.1" height="1.5" fill="#ef5350"/>
<path d="M509.64 277.2V282.3" stroke="#ef5350" stroke-width="0.9" opacity="0.85"/>
<rect x="508.59" y="279.7" width="2.1" height="1.4" fill="#ef5350"/>
<path d="M512.48 278.0V287.4" stroke="#26a69a" stroke-width="0.9" opacity="0.85"/>
<rect x="511.43" y="280.7" width="2.1" height="1.0" fill="#26a69a"/>
<path d="M515.33 277.2V284.9" stroke="#ef5350" stroke-width="0.9" opacity="0.85"/>
<rect x="514.28" y="280.7" width="2.1" height="3.0" fill="#ef5350"/>
<path d="M518.18 271.4V285.2" stroke="#26a69a" stroke-width="0.9" opacity="0.85"/>
<rect x="517.13" y="272.6" width="2.1" height="11.1" fill="#26a69a"/>
<path d="M521.02 271.1V282.0" stroke="#ef5350" stroke-width="0.9" opacity="0.85"/>
<rect x="519.97" y="272.6" width="2.1" height="7.3" fill="#ef5350"/>
<path d="M523.87 279.4V288.1" stroke="#ef5350" stroke-width="0.9" opacity="0.85"/>
<rect x="522.82" y="279.9" width="2.1" height="5.5" fill="#ef5350"/>
<path d="M526.71 277.2V286.3" stroke="#26a69a" stroke-width="0.9" opacity="0.85"/>
<rect x="525.66" y="277.7" width="2.1" height="7.7" fill="#26a69a"/>
<path d="M529.56 263.1V278.0" stroke="#26a69a" stroke-width="0.9" opacity="0.85"/>
<rect x="528.51" y="268.2" width="2.1" height="9.5" fill="#26a69a"/>
<path d="M532.40 259.5V269.3" stroke="#26a69a" stroke-width="0.9" opacity="0.85"/>
<rect x="531.35" y="260.9" width="2.1" height="7.3" fill="#26a69a"/>
<path d="M535.25 243.5V264.2" stroke="#26a69a" stroke-width="0.9" opacity="0.85"/>
<rect x="534.20" y="250.0" width="2.1" height="10.9" fill="#26a69a"/>
<path d="M538.09 244.6V260.2" stroke="#ef5350" stroke-width="0.9" opacity="0.85"/>
<rect x="537.04" y="250.0" width="2.1" height="2.4" fill="#ef5350"/>
<path d="M540.94 243.5V258.4" stroke="#26a69a" stroke-width="0.9" opacity="0.85"/>
<rect x="539.89" y="248.7" width="2.1" height="3.7" fill="#26a69a"/>
<path d="M543.79 238.8V254.4" stroke="#26a69a" stroke-width="0.9" opacity="0.85"/>
<rect x="542.74" y="239.2" width="2.1" height="9.5" fill="#26a69a"/>
<path d="M546.63 224.3V241.3" stroke="#26a69a" stroke-width="0.9" opacity="0.85"/>
<rect x="545.58" y="227.8" width="2.1" height="11.5" fill="#26a69a"/>
<path d="M549.48 225.7V242.8" stroke="#ef5350" stroke-width="0.9" opacity="0.85"/>
<rect x="548.43" y="227.8" width="2.1" height="11.4" fill="#ef5350"/>
<path d="M552.32 228.3V245.0" stroke="#26a69a" stroke-width="0.9" opacity="0.85"/>
<rect x="551.27" y="234.0" width="2.1" height="5.2" fill="#26a69a"/>
<path d="M555.17 221.0V240.2" stroke="#26a69a" stroke-width="0.9" opacity="0.85"/>
<rect x="554.12" y="233.0" width="2.1" height="1.0" fill="#26a69a"/>
<path d="M558.01 222.1V246.0" stroke="#ef5350" stroke-width="0.9" opacity="0.85"/>
<rect x="556.96" y="233.0" width="2.1" height="4.2" fill="#ef5350"/>
<path d="M560.86 201.4V241.3" stroke="#26a69a" stroke-width="0.9" opacity="0.85"/>
<rect x="559.81" y="219.0" width="2.1" height="18.2" fill="#26a69a"/>
<path d="M563.70 208.7V223.6" stroke="#ef5350" stroke-width="0.9" opacity="0.85"/>
<rect x="562.65" y="219.0" width="2.1" height="1.4" fill="#ef5350"/>
<path d="M566.55 219.6V241.3" stroke="#ef5350" stroke-width="0.9" opacity="0.85"/>
<rect x="565.50" y="220.4" width="2.1" height="14.3" fill="#ef5350"/>
<path d="M569.40 225.0V236.3" stroke="#26a69a" stroke-width="0.9" opacity="0.85"/>
<rect x="568.35" y="232.3" width="2.1" height="2.4" fill="#26a69a"/>
<path d="M572.24 214.1V234.1" stroke="#26a69a" stroke-width="0.9" opacity="0.85"/>
<rect x="571.19" y="216.5" width="2.1" height="15.7" fill="#26a69a"/>
<path d="M575.09 188.4V219.2" stroke="#26a69a" stroke-width="0.9" opacity="0.85"/>
<rect x="574.04" y="189.5" width="2.1" height="27.1" fill="#26a69a"/>
<path d="M577.93 171.7V190.5" stroke="#26a69a" stroke-width="0.9" opacity="0.85"/>
<rect x="576.88" y="172.6" width="2.1" height="16.8" fill="#26a69a"/>
<path d="M580.78 143.0V178.2" stroke="#26a69a" stroke-width="0.9" opacity="0.85"/>
<rect x="579.73" y="145.2" width="2.1" height="27.4" fill="#26a69a"/>
<path d="M583.62 108.6V166.2" stroke="#26a69a" stroke-width="0.9" opacity="0.85"/>
<rect x="582.57" y="116.9" width="2.1" height="28.3" fill="#26a69a"/>
<path d="M586.47 101.5V147.0" stroke="#ef5350" stroke-width="0.9" opacity="0.85"/>
<rect x="585.42" y="116.9" width="2.1" height="17.4" fill="#ef5350"/>
<path d="M589.32 131.4V176.8" stroke="#ef5350" stroke-width="0.9" opacity="0.85"/>
<rect x="588.27" y="134.3" width="2.1" height="13.4" fill="#ef5350"/>
<path d="M592.16 131.4V151.7" stroke="#26a69a" stroke-width="0.9" opacity="0.85"/>
<rect x="591.11" y="133.8" width="2.1" height="13.9" fill="#26a69a"/>
<path d="M595.01 133.6V166.2" stroke="#ef5350" stroke-width="0.9" opacity="0.85"/>
<rect x="593.96" y="133.8" width="2.1" height="14.1" fill="#ef5350"/>
<path d="M597.85 127.8V191.6" stroke="#ef5350" stroke-width="0.9" opacity="0.85"/>
<rect x="596.80" y="147.9" width="2.1" height="21.6" fill="#ef5350"/>
<path d="M600.70 160.4V191.6" stroke="#ef5350" stroke-width="0.9" opacity="0.85"/>
<rect x="599.65" y="169.5" width="2.1" height="1.0" fill="#ef5350"/>
<path d="M603.54 155.0V175.7" stroke="#26a69a" stroke-width="0.9" opacity="0.85"/>
<rect x="602.49" y="161.7" width="2.1" height="8.4" fill="#26a69a"/>
<path d="M606.39 159.7V194.2" stroke="#ef5350" stroke-width="0.9" opacity="0.85"/>
<rect x="605.34" y="161.7" width="2.1" height="9.1" fill="#ef5350"/>
<path d="M609.23 164.8V190.9" stroke="#ef5350" stroke-width="0.9" opacity="0.85"/>
<rect x="608.18" y="170.8" width="2.1" height="15.0" fill="#ef5350"/>
<path d="M612.08 169.9V190.9" stroke="#26a69a" stroke-width="0.9" opacity="0.85"/>
<rect x="611.03" y="175.6" width="2.1" height="10.2" fill="#26a69a"/>
<path d="M614.93 111.8V177.5" stroke="#26a69a" stroke-width="0.9" opacity="0.85"/>
<rect x="613.88" y="120.8" width="2.1" height="54.8" fill="#26a69a"/>
<path d="M617.77 110.0V130.0" stroke="#ef5350" stroke-width="0.9" opacity="0.85"/>
<rect x="616.72" y="120.8" width="2.1" height="3.3" fill="#ef5350"/>
<path d="M620.62 116.2V139.0" stroke="#ef5350" stroke-width="0.9" opacity="0.85"/>
<rect x="619.57" y="124.2" width="2.1" height="5.4" fill="#ef5350"/>
<path d="M623.46 128.9V154.6" stroke="#ef5350" stroke-width="0.9" opacity="0.85"/>
<rect x="622.41" y="129.5" width="2.1" height="6.2" fill="#ef5350"/>
<path d="M626.31 133.2V155.0" stroke="#ef5350" stroke-width="0.9" opacity="0.85"/>
<rect x="625.26" y="135.8" width="2.1" height="14.5" fill="#ef5350"/>
<path d="M629.15 143.0V163.3" stroke="#26a69a" stroke-width="0.9" opacity="0.85"/>
<rect x="628.10" y="149.0" width="2.1" height="1.3" fill="#26a69a"/>
<path d="M632.00 142.7V194.5" stroke="#ef5350" stroke-width="0.9" opacity="0.85"/>
<rect x="630.95" y="149.0" width="2.1" height="36.9" fill="#ef5350"/>
<path d="M634.84 161.9V193.4" stroke="#26a69a" stroke-width="0.9" opacity="0.85"/>
<rect x="633.79" y="163.0" width="2.1" height="22.9" fill="#26a69a"/>
<path d="M637.69 140.1V167.7" stroke="#26a69a" stroke-width="0.9" opacity="0.85"/>
<rect x="636.64" y="141.9" width="2.1" height="21.0" fill="#26a69a"/>
<path d="M640.54 140.1V174.6" stroke="#ef5350" stroke-width="0.9" opacity="0.85"/>
<rect x="639.49" y="141.9" width="2.1" height="19.2" fill="#ef5350"/>
<path d="M643.38 151.7V207.6" stroke="#ef5350" stroke-width="0.9" opacity="0.85"/>
<rect x="642.33" y="161.2" width="2.1" height="42.2" fill="#ef5350"/>
<path d="M646.23 201.1V245.2" stroke="#ef5350" stroke-width="0.9" opacity="0.85"/>
<rect x="645.18" y="203.4" width="2.1" height="9.6" fill="#ef5350"/>
<path d="M649.07 196.7V216.3" stroke="#26a69a" stroke-width="0.9" opacity="0.85"/>
<rect x="648.02" y="208.8" width="2.1" height="4.2" fill="#26a69a"/>
<path d="M651.92 193.8V214.5" stroke="#26a69a" stroke-width="0.9" opacity="0.85"/>
<rect x="650.87" y="199.2" width="2.1" height="9.6" fill="#26a69a"/>
<path d="M654.76 197.8V224.6" stroke="#ef5350" stroke-width="0.9" opacity="0.85"/>
<rect x="653.71" y="199.2" width="2.1" height="23.1" fill="#ef5350"/>
<path d="M657.61 212.3V242.4" stroke="#ef5350" stroke-width="0.9" opacity="0.85"/>
<rect x="656.56" y="222.3" width="2.1" height="9.4" fill="#ef5350"/>
<path d="M660.46 219.6V235.2" stroke="#26a69a" stroke-width="0.9" opacity="0.85"/>
<rect x="659.41" y="230.4" width="2.1" height="1.3" fill="#26a69a"/>
<path d="M663.30 207.6V235.2" stroke="#26a69a" stroke-width="0.9" opacity="0.85"/>
<rect x="662.25" y="211.2" width="2.1" height="19.2" fill="#26a69a"/>
<path d="M666.15 200.3V214.8" stroke="#26a69a" stroke-width="0.9" opacity="0.85"/>
<rect x="665.10" y="205.6" width="2.1" height="5.6" fill="#26a69a"/>
<path d="M668.99 205.1V230.8" stroke="#ef5350" stroke-width="0.9" opacity="0.85"/>
<rect x="667.94" y="205.6" width="2.1" height="15.7" fill="#ef5350"/>
<path d="M671.84 215.6V229.4" stroke="#26a69a" stroke-width="0.9" opacity="0.85"/>
<rect x="670.79" y="219.3" width="2.1" height="2.0" fill="#26a69a"/>
<path d="M674.68 197.8V221.7" stroke="#26a69a" stroke-width="0.9" opacity="0.85"/>
<rect x="673.63" y="199.2" width="2.1" height="20.2" fill="#26a69a"/>
<path d="M677.53 197.4V225.7" stroke="#ef5350" stroke-width="0.9" opacity="0.85"/>
<rect x="676.48" y="199.2" width="2.1" height="17.3" fill="#ef5350"/>
<path d="M680.37 200.7V223.6" stroke="#ef5350" stroke-width="0.9" opacity="0.85"/>
<rect x="679.32" y="216.5" width="2.1" height="3.6" fill="#ef5350"/>
<path d="M683.22 162.6V227.5" stroke="#26a69a" stroke-width="0.9" opacity="0.85"/>
<rect x="682.17" y="167.5" width="2.1" height="52.7" fill="#26a69a"/>
<path d="M686.07 148.5V180.0" stroke="#ef5350" stroke-width="0.9" opacity="0.85"/>
<rect x="685.02" y="167.5" width="2.1" height="7.8" fill="#ef5350"/>
<path d="M688.91 144.5V178.6" stroke="#26a69a" stroke-width="0.9" opacity="0.85"/>
<rect x="687.86" y="154.6" width="2.1" height="20.6" fill="#26a69a"/>
<path d="M691.76 127.1V162.6" stroke="#26a69a" stroke-width="0.9" opacity="0.85"/>
<rect x="690.71" y="129.4" width="2.1" height="25.2" fill="#26a69a"/>
<path d="M694.60 101.3V144.5" stroke="#26a69a" stroke-width="0.9" opacity="0.85"/>
<rect x="693.55" y="107.8" width="2.1" height="21.5" fill="#26a69a"/>
<path d="M697.45 106.4V143.7" stroke="#ef5350" stroke-width="0.9" opacity="0.85"/>
<rect x="696.40" y="107.8" width="2.1" height="3.4" fill="#ef5350"/>
<path d="M700.29 100.4V173.5" stroke="#ef5350" stroke-width="0.9" opacity="0.85"/>
<rect x="699.24" y="111.2" width="2.1" height="49.2" fill="#ef5350"/>
<path d="M703.14 140.8V165.2" stroke="#26a69a" stroke-width="0.9" opacity="0.85"/>
<rect x="702.09" y="155.0" width="2.1" height="5.4" fill="#26a69a"/>
<path d="M705.98 131.8V159.0" stroke="#26a69a" stroke-width="0.9" opacity="0.85"/>
<rect x="704.93" y="134.7" width="2.1" height="20.3" fill="#26a69a"/>
<path d="M708.83 126.7V169.5" stroke="#ef5350" stroke-width="0.9" opacity="0.85"/>
<rect x="707.78" y="134.7" width="2.1" height="26.8" fill="#ef5350"/>
<path d="M711.68 142.7V186.6" stroke="#ef5350" stroke-width="0.9" opacity="0.85"/>
<rect x="710.63" y="161.5" width="2.1" height="3.8" fill="#ef5350"/>
<path d="M714.52 148.1V171.3" stroke="#26a69a" stroke-width="0.9" opacity="0.85"/>
<rect x="713.47" y="164.1" width="2.1" height="1.2" fill="#26a69a"/>
<path d="M717.37 149.2V195.3" stroke="#ef5350" stroke-width="0.9" opacity="0.85"/>
<rect x="716.32" y="164.1" width="2.1" height="26.1" fill="#ef5350"/>
<path d="M720.21 186.6V244.2" stroke="#ef5350" stroke-width="0.9" opacity="0.85"/>
<rect x="719.16" y="190.2" width="2.1" height="17.4" fill="#ef5350"/>
<path d="M723.06 195.6V215.6" stroke="#26a69a" stroke-width="0.9" opacity="0.85"/>
<rect x="722.01" y="205.4" width="2.1" height="2.2" fill="#26a69a"/>
<path d="M725.90 191.6V209.8" stroke="#26a69a" stroke-width="0.9" opacity="0.85"/>
<rect x="724.85" y="193.8" width="2.1" height="11.6" fill="#26a69a"/>
<path d="M728.75 192.4V247.9" stroke="#ef5350" stroke-width="0.9" opacity="0.85"/>
<rect x="727.70" y="193.8" width="2.1" height="21.8" fill="#ef5350"/>
<path d="M731.60 213.4V254.0" stroke="#ef5350" stroke-width="0.9" opacity="0.85"/>
<rect x="730.55" y="215.6" width="2.1" height="36.3" fill="#ef5350"/>
<path d="M734.44 242.4V271.1" stroke="#ef5350" stroke-width="0.9" opacity="0.85"/>
<rect x="733.39" y="251.8" width="2.1" height="9.6" fill="#ef5350"/>
<path d="M737.29 248.2V262.7" stroke="#26a69a" stroke-width="0.9" opacity="0.85"/>
<rect x="736.24" y="252.9" width="2.1" height="8.6" fill="#26a69a"/>
<path d="M740.13 245.7V270.3" stroke="#ef5350" stroke-width="0.9" opacity="0.85"/>
<rect x="739.08" y="252.9" width="2.1" height="14.4" fill="#ef5350"/>
<path d="M742.98 256.2V271.4" stroke="#ef5350" stroke-width="0.9" opacity="0.85"/>
<rect x="741.93" y="267.3" width="2.1" height="1.0" fill="#ef5350"/>
<path d="M745.82 267.4V297.9" stroke="#ef5350" stroke-width="0.9" opacity="0.85"/>
<rect x="744.77" y="267.4" width="2.1" height="15.2" fill="#ef5350"/>
<path d="M748.67 275.8V286.7" stroke="#ef5350" stroke-width="0.9" opacity="0.85"/>
<rect x="747.62" y="282.5" width="2.1" height="1.0" fill="#ef5350"/>
<path d="M751.51 265.3V284.9" stroke="#26a69a" stroke-width="0.9" opacity="0.85"/>
<rect x="750.46" y="268.5" width="2.1" height="14.7" fill="#26a69a"/>
<path d="M754.36 262.4V272.9" stroke="#26a69a" stroke-width="0.9" opacity="0.85"/>
<rect x="753.31" y="267.2" width="2.1" height="1.3" fill="#26a69a"/>
<path d="M757.21 209.8V271.4" stroke="#26a69a" stroke-width="0.9" opacity="0.85"/>
<rect x="756.16" y="216.0" width="2.1" height="51.2" fill="#26a69a"/>
<path d="M760.05 199.6V223.6" stroke="#ef5350" stroke-width="0.9" opacity="0.85"/>
<rect x="759.00" y="216.0" width="2.1" height="1.0" fill="#ef5350"/>
<path d="M762.90 200.0V224.3" stroke="#26a69a" stroke-width="0.9" opacity="0.85"/>
<rect x="761.85" y="213.4" width="2.1" height="3.6" fill="#26a69a"/>
<path d="M765.74 196.0V219.2" stroke="#ef5350" stroke-width="0.9" opacity="0.85"/>
<rect x="764.69" y="213.4" width="2.1" height="1.0" fill="#ef5350"/>
<path d="M768.59 204.0V225.0" stroke="#ef5350" stroke-width="0.9" opacity="0.85"/>
<rect x="767.54" y="214.1" width="2.1" height="2.2" fill="#ef5350"/>
<path d="M771.43 189.5V221.4" stroke="#26a69a" stroke-width="0.9" opacity="0.85"/>
<rect x="770.38" y="213.4" width="2.1" height="2.9" fill="#26a69a"/>
<path d="M774.28 204.0V245.2" stroke="#ef5350" stroke-width="0.9" opacity="0.85"/>
<rect x="773.23" y="213.4" width="2.1" height="23.4" fill="#ef5350"/>
<path d="M777.12 215.6V239.5" stroke="#26a69a" stroke-width="0.9" opacity="0.85"/>
<rect x="776.07" y="217.0" width="2.1" height="19.8" fill="#26a69a"/>
<path d="M779.97 207.2V226.1" stroke="#26a69a" stroke-width="0.9" opacity="0.85"/>
<rect x="778.92" y="211.9" width="2.1" height="5.1" fill="#26a69a"/>
<path d="M782.82 177.8V215.9" stroke="#26a69a" stroke-width="0.9" opacity="0.85"/>
<rect x="781.77" y="182.9" width="2.1" height="29.0" fill="#26a69a"/>
<path d="M785.66 120.5V185.8" stroke="#26a69a" stroke-width="0.9" opacity="0.85"/>
<rect x="784.61" y="125.8" width="2.1" height="57.1" fill="#26a69a"/>
<path d="M788.51 112.6V144.5" stroke="#26a69a" stroke-width="0.9" opacity="0.85"/>
<rect x="787.46" y="117.6" width="2.1" height="8.2" fill="#26a69a"/>
<path d="M791.35 112.6V155.0" stroke="#ef5350" stroke-width="0.9" opacity="0.85"/>
<rect x="790.30" y="117.6" width="2.1" height="26.8" fill="#ef5350"/>
<path d="M794.20 84.3V145.6" stroke="#26a69a" stroke-width="0.9" opacity="0.85"/>
<rect x="793.15" y="90.1" width="2.1" height="54.4" fill="#26a69a"/>
<path d="M797.04 50.9V96.2" stroke="#26a69a" stroke-width="0.9" opacity="0.85"/>
<rect x="795.99" y="73.7" width="2.1" height="16.3" fill="#26a69a"/>
<path d="M799.89 38.8V103.8" stroke="#26a69a" stroke-width="0.9" opacity="0.85"/>
<rect x="798.84" y="51.6" width="2.1" height="22.1" fill="#26a69a"/>
<path d="M802.74 50.2V89.7" stroke="#ef5350" stroke-width="0.9" opacity="0.85"/>
<rect x="801.69" y="51.6" width="2.1" height="28.3" fill="#ef5350"/>
<path d="M805.58 72.7V93.0" stroke="#ef5350" stroke-width="0.9" opacity="0.85"/>
<rect x="804.53" y="79.9" width="2.1" height="6.5" fill="#ef5350"/>
<path d="M808.43 52.3V90.1" stroke="#26a69a" stroke-width="0.9" opacity="0.85"/>
<rect x="807.38" y="64.7" width="2.1" height="21.8" fill="#26a69a"/>
<path d="M811.27 52.7V79.2" stroke="#ef5350" stroke-width="0.9" opacity="0.85"/>
<rect x="810.22" y="64.7" width="2.1" height="10.9" fill="#ef5350"/>
<path d="M814.12 71.9V121.6" stroke="#ef5350" stroke-width="0.9" opacity="0.85"/>
<rect x="813.07" y="75.6" width="2.1" height="22.5" fill="#ef5350"/>
<path d="M816.96 63.2V101.7" stroke="#26a69a" stroke-width="0.9" opacity="0.85"/>
<rect x="815.91" y="70.8" width="2.1" height="27.2" fill="#26a69a"/>
<path d="M819.81 53.4V149.2" stroke="#ef5350" stroke-width="0.9" opacity="0.85"/>
<rect x="818.76" y="70.8" width="2.1" height="25.8" fill="#ef5350"/>
<path d="M822.65 87.2V131.4" stroke="#ef5350" stroke-width="0.9" opacity="0.85"/>
<rect x="821.60" y="96.6" width="2.1" height="12.7" fill="#ef5350"/>
<path d="M825.50 89.7V130.0" stroke="#26a69a" stroke-width="0.9" opacity="0.85"/>
<rect x="824.45" y="96.6" width="2.1" height="12.7" fill="#26a69a"/>
<path d="M828.35 90.1V131.4" stroke="#ef5350" stroke-width="0.9" opacity="0.85"/>
<rect x="827.30" y="96.6" width="2.1" height="18.9" fill="#ef5350"/>
<path d="M831.19 114.0V176.8" stroke="#ef5350" stroke-width="0.9" opacity="0.85"/>
<rect x="830.14" y="115.5" width="2.1" height="23.2" fill="#ef5350"/>
<path d="M834.04 132.9V180.7" stroke="#ef5350" stroke-width="0.9" opacity="0.85"/>
<rect x="832.99" y="138.7" width="2.1" height="35.5" fill="#ef5350"/>
<path d="M836.88 164.8V208.3" stroke="#ef5350" stroke-width="0.9" opacity="0.85"/>
<rect x="835.83" y="174.2" width="2.1" height="21.0" fill="#ef5350"/>
<path d="M839.73 173.5V201.4" stroke="#26a69a" stroke-width="0.9" opacity="0.85"/>
<rect x="838.68" y="180.7" width="2.1" height="14.5" fill="#26a69a"/>
<path d="M842.57 163.3V201.1" stroke="#26a69a" stroke-width="0.9" opacity="0.85"/>
<rect x="841.52" y="176.4" width="2.1" height="4.4" fill="#26a69a"/>
<path d="M845.42 148.5V188.7" stroke="#26a69a" stroke-width="0.9" opacity="0.85"/>
<rect x="844.37" y="176.1" width="2.1" height="1.0" fill="#26a69a"/>
<path d="M848.26 167.9V197.1" stroke="#ef5350" stroke-width="0.9" opacity="0.85"/>
<rect x="847.21" y="176.1" width="2.1" height="5.2" fill="#ef5350"/>
</g>
<g clip-path="url(#cm)" fill="none" stroke-linejoin="round" stroke-linecap="round">
<polyline points="6.0,384.3 8.8,384.3 11.7,384.4 14.5,384.4 17.3,384.5 20.2,384.5 23.0,384.6 25.9,384.7 28.7,384.8 31.6,384.9 34.4,384.9 37.3,384.9 40.1,384.8 43.0,384.8 45.8,384.7 48.7,384.4 51.5,384.1 54.3,383.7 57.2,383.4 60.0,383.1 62.9,382.9 65.7,382.6 68.6,382.3 71.4,382.1 74.3,381.8 77.1,381.5 80.0,381.2 82.8,380.9 85.6,380.6 88.5,380.2 91.3,379.7 94.2,379.1 97.0,378.5 99.9,377.8 102.7,377.2 105.6,376.4 108.4,375.7 111.3,374.5 114.1,372.9 116.9,371.4 119.8,369.7 122.6,368.2 125.5,366.2 128.3,363.9 131.2,361.4 134.0,359.5 136.9,357.2 139.7,354.7 142.6,352.3 145.4,350.1 148.2,347.4 151.1,344.5 153.9,341.6 156.8,338.5 159.6,334.6 162.5,329.2 165.3,324.3 168.2,321.6 171.0,318.5 173.9,314.9 176.7,311.6 179.5,308.6 182.4,306.1 185.2,303.1 188.1,300.4 190.9,298.2 193.8,295.6 196.6,292.5 199.5,288.7 202.3,284.6 205.2,280.4 208.0,276.2 210.9,271.0 213.7,266.6 216.5,262.3 219.4,258.4 222.2,254.0 225.1,249.6 227.9,244.6 230.8,239.3 233.6,233.8 236.5,227.9 239.3,222.0 242.2,216.7 245.0,211.3 247.8,206.2 250.7,201.1 253.5,196.9 256.4,192.8 259.2,189.0 262.1,186.5 264.9,183.5 267.8,182.2 270.6,181.0 273.5,179.4 276.3,177.3 279.1,176.0 282.0,174.9 284.8,173.8 287.7,172.6 290.5,171.4 293.4,169.8 296.2,167.9 299.1,166.5 301.9,166.5 304.8,167.9 307.6,169.0 310.4,168.4 313.3,168.8 316.1,169.7 319.0,170.7 321.8,171.4 324.7,172.2 327.5,173.9 330.4,175.3 333.2,176.5 336.1,178.0 338.9,179.7 341.7,181.8 344.6,184.1 347.4,186.4 350.3,188.2 353.1,191.6 356.0,194.5 358.8,197.0 361.7,198.9 364.5,201.9 367.4,205.0 370.2,208.8 373.0,212.8 375.9,217.1 378.7,221.8 381.6,226.2 384.4,230.1 387.3,234.6 390.1,239.0 393.0,243.3 395.8,247.1 398.7,251.2 401.5,255.0 404.4,257.8 407.2,260.9 410.0,262.7 412.9,264.3 415.7,266.3 418.6,268.1 421.4,269.5 424.3,271.1 427.1,272.4 430.0,273.7 432.8,275.6 435.7,278.0 438.5,280.6 441.3,282.7 444.2,284.4 447.0,286.0 449.9,287.0 452.7,287.9 455.6,288.3 458.4,288.6 461.3,288.6 464.1,288.6 467.0,287.9 469.8,286.8 472.6,286.0 475.5,285.1 478.3,284.0 481.2,283.1 484.0,282.7 486.9,282.4 489.7,282.1 492.6,282.2 495.4,281.9 498.3,281.3 501.1,281.2 503.9,281.3 506.8,280.9 509.6,280.4 512.5,279.9 515.3,279.5 518.2,278.9 521.0,278.5 523.9,278.6 526.7,278.4 529.6,277.6 532.4,276.5 535.2,275.3 538.1,274.2 540.9,273.1 543.8,271.6 546.6,269.9 549.5,268.5 552.3,267.1 555.2,266.0 558.0,265.2 560.9,264.0 563.7,262.8 566.6,261.7 569.4,260.8 572.2,259.5 575.1,257.6 577.9,255.4 580.8,253.0 583.6,249.9 586.5,247.2 589.3,244.9 592.2,242.7 595.0,240.4 597.9,238.5 600.7,236.7 603.5,234.5 606.4,232.6 609.2,231.1 612.1,229.4 614.9,226.4 617.8,223.4 620.6,220.8 623.5,218.4 626.3,216.1 629.2,213.9 632.0,212.4 634.8,210.4 637.7,207.9 640.5,205.8 643.4,204.4 646.2,203.1 649.1,201.7 651.9,200.0 654.8,198.8 657.6,197.8 660.5,197.0 663.3,195.6 666.1,194.0 669.0,192.9 671.8,191.9 674.7,190.7 677.5,190.0 680.4,189.3 683.2,187.7 686.1,186.4 688.9,185.0 691.8,182.8 694.6,180.3 697.4,177.8 700.3,176.3 703.1,175.0 706.0,173.3 708.8,171.8 711.7,170.5 714.5,169.4 717.4,169.5 720.2,170.2 723.1,171.4 725.9,172.9 728.7,174.5 731.6,176.6 734.4,179.2 737.3,181.3 740.1,183.2 743.0,185.2 745.8,187.6 748.7,189.8 751.5,191.5 754.4,193.3 757.2,195.2 760.1,197.1 762.9,198.8 765.7,200.3 768.6,201.6 771.4,202.9 774.3,203.9 777.1,205.0 780.0,206.4 782.8,206.9 785.7,205.3 788.5,203.4 791.4,202.1 794.2,199.9 797.0,197.0 799.9,193.4 802.7,190.4 805.6,187.9 808.4,185.0 811.3,182.1 814.1,179.7 817.0,177.1 819.8,174.7 822.7,172.5 825.5,171.1 828.3,169.9 831.2,169.6 834.0,170.5 836.9,172.2 839.7,173.6 842.6,173.9 845.4,174.4 848.3,175.3" stroke="#f23645" stroke-width="2.3"/>
<polyline points="6.0,386.0 8.8,385.8 11.7,385.5 14.5,385.3 17.3,385.1 20.2,385.0 23.0,384.7 25.9,384.3 28.7,384.0 31.6,383.8 34.4,383.7 37.3,383.5 40.1,383.2 43.0,383.0 45.8,382.4 48.7,381.3 51.5,380.2 54.3,379.0 57.2,378.1 60.0,377.1 62.9,376.7 65.7,376.2 68.6,375.8 71.4,375.5 74.3,375.2 77.1,374.8 80.0,374.5 82.8,373.9 85.6,373.5 88.5,372.8 91.3,372.1 94.2,370.8 97.0,369.4 99.9,368.0 102.7,366.9 105.6,365.5 108.4,363.9 111.3,360.4 114.1,355.4 116.9,351.0 119.8,345.9 122.6,341.8 125.5,336.0 128.3,329.5 131.2,322.7 134.0,320.1 136.9,315.7 139.7,310.8 142.6,306.8 145.4,303.9 148.2,298.5 151.1,293.2 153.9,287.7 156.8,282.3 159.6,273.0 162.5,257.8 165.3,246.4 168.2,246.4 171.0,244.4 173.9,240.4 176.7,238.1 179.5,237.8 182.4,239.4 185.2,238.5 188.1,239.0 190.9,241.1 193.8,240.9 196.6,238.3 199.5,232.7 202.3,225.6 205.2,219.7 208.0,214.5 210.9,204.7 213.7,199.6 216.5,195.5 219.4,193.7 222.2,189.6 225.1,185.9 227.9,179.5 230.8,172.2 233.6,164.1 236.5,154.5 239.3,145.8 242.2,140.4 245.0,135.3 247.8,131.3 250.7,128.2 253.5,126.9 256.4,124.6 259.2,124.3 262.1,128.6 264.9,131.2 267.8,139.1 270.6,145.8 273.5,148.7 276.3,152.7 279.1,158.0 282.0,162.8 284.8,167.6 287.7,172.2 290.5,174.0 293.4,172.6 296.2,169.8 299.1,169.0 301.9,170.2 304.8,171.8 307.6,173.8 310.4,177.8 313.3,184.0 316.1,190.4 319.0,197.7 321.8,204.3 324.7,212.9 327.5,222.8 330.4,231.2 333.2,239.7 336.1,246.8 338.9,252.0 341.7,254.9 344.6,256.9 347.4,258.7 350.3,258.6 353.1,260.7 356.0,264.0 358.8,265.9 361.7,266.3 364.5,269.7 367.4,273.0 370.2,276.1 373.0,278.6 375.9,281.0 378.7,282.8 381.6,282.8 384.4,283.0 387.3,285.5 390.1,288.4 393.0,290.6 395.8,292.0 398.7,293.4 401.5,295.2 404.4,296.7 407.2,298.1 410.0,298.7 412.9,297.5 415.7,295.9 418.6,294.3 421.4,292.9 424.3,292.5 427.1,291.0 430.0,289.9 432.8,289.4 435.7,288.8 438.5,286.9 441.3,285.2 444.2,283.6 447.0,281.7 449.9,278.2 452.7,276.8 455.6,275.4 458.4,274.2 461.3,273.6 464.1,273.0 467.0,271.8 469.8,270.8 472.6,270.8 475.5,271.1 478.3,270.1 481.2,268.9 484.0,268.4 486.9,267.5 489.7,266.9 492.6,266.6 495.4,266.5 498.3,266.3 501.1,267.3 503.9,268.3 506.8,269.4 509.6,270.5 512.5,271.5 515.3,272.6 518.2,272.6 521.0,273.3 523.9,274.5 526.7,274.8 529.6,274.2 532.4,272.9 535.2,270.7 538.1,269.0 540.9,267.0 543.8,264.4 546.6,260.9 549.5,258.8 552.3,256.5 555.2,254.2 558.0,252.6 560.9,249.4 563.7,246.6 566.6,245.5 569.4,244.2 572.2,241.6 575.1,236.6 577.9,230.5 580.8,222.4 583.6,212.4 586.5,204.9 589.3,199.5 592.2,193.2 595.0,188.9 597.9,187.1 600.7,185.5 603.5,183.2 606.4,182.0 609.2,182.4 612.1,181.7 614.9,175.9 617.8,171.0 620.6,167.1 623.5,164.1 626.3,162.8 629.2,161.4 632.0,163.8 634.8,163.7 637.7,161.6 640.5,161.6 643.4,165.6 646.2,170.1 649.1,173.8 651.9,176.2 654.8,180.6 657.6,185.5 660.5,189.7 663.3,191.8 666.1,193.1 669.0,195.8 671.8,198.0 674.7,198.1 677.5,199.9 680.4,201.8 683.2,198.6 686.1,196.3 688.9,192.4 691.8,186.4 694.6,178.9 697.4,172.4 700.3,171.3 703.1,169.7 706.0,166.4 708.8,165.9 711.7,165.9 714.5,165.7 717.4,168.0 720.2,171.8 723.1,175.0 725.9,176.8 728.7,180.5 731.6,187.3 734.4,194.4 737.3,199.9 740.1,206.3 743.0,212.2 745.8,218.9 748.7,225.0 751.5,229.1 754.4,232.8 757.2,231.2 760.1,229.8 762.9,228.3 765.7,226.9 768.6,225.9 771.4,224.7 774.3,225.9 777.1,225.0 780.0,223.8 782.8,219.9 785.7,210.9 788.5,202.0 791.4,196.6 794.2,186.4 797.0,175.7 799.9,163.9 802.7,155.9 805.6,149.3 808.4,141.2 811.3,135.0 814.1,131.4 817.0,125.7 819.8,122.9 822.7,121.6 825.5,119.2 828.3,118.9 831.2,120.7 834.0,125.8 836.9,132.5 839.7,137.1 842.6,140.8 845.4,144.2 848.3,147.7" stroke="#2962ff" stroke-width="2.3"/>
</g>
<line x1="147.9" y1="45.5" x2="920.5" y2="45.5" stroke="#0a0ad2" stroke-width="2.7" stroke-dasharray="11.1 12.95"/>
<line x1="253.5" y1="334.3" x2="920.5" y2="334.3" stroke="#0a0ad2" stroke-width="2.7" stroke-dasharray="11.1 12.95"/>
<g clip-path="url(#cr)" fill="none" stroke-linejoin="round" stroke-linecap="round">
<path d="M6.0 453.4L6.0 453.4L8.8 453.4L11.7 453.4L14.5 453.4L17.3 453.4L20.2 453.4L23.0 453.4L25.9 453.4L28.7 453.4L31.6 453.4L34.4 453.4L37.3 453.4L40.1 453.4L43.0 453.4L45.8 450.0L48.7 439.5L51.5 437.1L54.3 432.1L57.2 450.5L60.0 445.1L62.9 453.4L65.7 453.4L68.6 453.4L71.4 453.4L74.3 453.4L77.1 453.4L80.0 453.4L82.8 453.4L85.6 453.4L88.5 453.4L91.3 453.4L94.2 441.4L97.0 439.7L99.9 437.2L102.7 441.6L105.6 436.6L108.4 432.9L111.3 419.3L114.1 413.8L116.9 418.2L119.8 415.5L122.6 428.5L125.5 421.7L128.3 418.9L131.2 417.2L134.0 453.4L136.9 453.3L139.7 450.0L142.6 453.4L145.4 453.4L148.2 449.5L151.1 447.7L153.9 445.7L156.8 443.8L159.6 432.6L162.5 423.1L165.3 438.8L168.2 453.4L171.0 453.4L173.9 453.4L176.7 453.4L179.5 453.4L182.4 453.4L185.2 453.4L188.1 453.4L190.9 453.4L193.8 453.4L196.6 453.4L199.5 453.4L202.3 453.4L205.2 453.4L208.0 453.4L210.9 453.4L213.7 453.4L216.5 453.4L219.4 453.4L222.2 453.4L225.1 453.4L227.9 453.4L230.8 453.4L233.6 453.4L236.5 453.4L239.3 453.4L242.2 453.4L245.0 453.4L247.8 453.4L250.7 453.4L253.5 453.4L256.4 453.4L259.2 453.4L262.1 453.4L264.9 453.4L267.8 453.4L270.6 453.4L273.5 453.4L276.3 453.4L279.1 453.4L282.0 453.4L284.8 453.4L287.7 453.4L290.5 453.4L293.4 453.4L296.2 453.4L299.1 453.4L301.9 453.4L304.8 453.4L307.6 453.4L310.4 453.4L313.3 453.4L316.1 453.4L319.0 453.4L321.8 453.4L324.7 453.4L327.5 453.4L330.4 453.4L333.2 453.4L336.1 453.4L338.9 453.4L341.7 453.4L344.6 453.4L347.4 453.4L350.3 453.4L353.1 453.4L356.0 453.4L358.8 453.4L361.7 453.4L364.5 453.4L367.4 453.4L370.2 453.4L373.0 453.4L375.9 453.4L378.7 453.4L381.6 453.4L384.4 453.4L387.3 453.4L390.1 453.4L393.0 453.4L395.8 453.4L398.7 453.4L401.5 453.4L404.4 453.4L407.2 453.4L410.0 453.4L412.9 453.4L415.7 453.4L418.6 453.4L421.4 453.4L424.3 453.4L427.1 453.4L430.0 453.4L432.8 453.4L435.7 453.4L438.5 453.4L441.3 453.4L444.2 453.4L447.0 453.4L449.9 453.4L452.7 453.4L455.6 453.4L458.4 453.4L461.3 453.4L464.1 453.4L467.0 453.4L469.8 453.4L472.6 453.4L475.5 453.4L478.3 453.4L481.2 453.4L484.0 453.4L486.9 453.4L489.7 453.4L492.6 453.4L495.4 453.4L498.3 453.4L501.1 453.4L503.9 453.4L506.8 453.4L509.6 453.4L512.5 453.4L515.3 453.4L518.2 453.4L521.0 453.4L523.9 453.4L526.7 453.4L529.6 453.4L532.4 453.4L535.2 453.4L538.1 453.4L540.9 453.4L543.8 453.4L546.6 450.3L549.5 453.4L552.3 453.4L555.2 453.4L558.0 453.4L560.9 453.4L563.7 453.4L566.6 453.4L569.4 453.4L572.2 453.4L575.1 447.8L577.9 441.8L580.8 434.4L583.6 428.8L586.5 443.6L589.3 453.4L592.2 449.5L595.0 453.4L597.9 453.4L600.7 453.4L603.5 453.4L606.4 453.4L609.2 453.4L612.1 453.4L614.9 453.4L617.8 453.4L620.6 453.4L623.5 453.4L626.3 453.4L629.2 453.4L632.0 453.4L634.8 453.4L637.7 453.4L640.5 453.4L643.4 453.4L646.2 453.4L649.1 453.4L651.9 453.4L654.8 453.4L657.6 453.4L660.5 453.4L663.3 453.4L666.1 453.4L669.0 453.4L671.8 453.4L674.7 453.4L677.5 453.4L680.4 453.4L683.2 453.4L686.1 453.4L688.9 453.4L691.8 453.4L694.6 453.4L697.4 453.4L700.3 453.4L703.1 453.4L706.0 453.4L708.8 453.4L711.7 453.4L714.5 453.4L717.4 453.4L720.2 453.4L723.1 453.4L725.9 453.4L728.7 453.4L731.6 453.4L734.4 453.4L737.3 453.4L740.1 453.4L743.0 453.4L745.8 453.4L748.7 453.4L751.5 453.4L754.4 453.4L757.2 453.4L760.1 453.4L762.9 453.4L765.7 453.4L768.6 453.4L771.4 453.4L774.3 453.4L777.1 453.4L780.0 453.4L782.8 453.4L785.7 453.4L788.5 452.1L791.4 453.4L794.2 453.2L797.0 450.1L799.9 446.1L802.7 453.4L805.6 453.4L808.4 453.4L811.3 453.4L814.1 453.4L817.0 453.4L819.8 453.4L822.7 453.4L825.5 453.4L828.3 453.4L831.2 453.4L834.0 453.4L836.9 453.4L839.7 453.4L842.6 453.4L845.4 453.4L848.3 453.4L848.3 453.4Z" fill="url(#gg)" stroke="none"/>
<polyline points="6.0,484.2 8.8,483.6 11.7,482.8 14.5,482.7 17.3,483.8 20.2,485.6 23.0,487.0 25.9,486.2 28.7,485.4 31.6,483.2 34.4,481.0 37.3,478.8 40.1,476.6 43.0,475.1 45.8,472.5 48.7,469.6 51.5,466.8 54.3,463.6 57.2,461.7 60.0,459.1 62.9,459.1 65.7,459.2 68.6,458.8 71.4,458.6 74.3,458.4 77.1,457.9 80.0,457.7 82.8,457.1 85.6,458.1 88.5,459.1 91.3,460.5 94.2,461.2 97.0,460.4 99.9,459.9 102.7,457.8 105.6,455.6 108.4,453.2 111.3,449.5 114.1,445.3 116.9,441.7 119.8,438.0 122.6,435.7 125.5,432.6 128.3,430.1 131.2,427.3 134.0,428.9 136.9,429.8 139.7,430.7 142.6,431.6 145.4,433.4 148.2,434.5 151.1,436.6 153.9,438.8 156.8,440.7 159.6,441.9 162.5,441.5 165.3,442.7 168.2,447.3 171.0,451.7 173.9,452.3 176.7,454.0 179.5,456.4 182.4,458.8 185.2,460.3 188.1,462.9 190.9,466.0 193.8,468.8 196.6,471.2 199.5,473.8 202.3,476.8 205.2,478.8 208.0,477.7 210.9,476.1 213.7,476.0 216.5,475.6 219.4,475.3 222.2,474.1 225.1,473.5 227.9,472.0 230.8,469.8 233.6,468.0 236.5,466.2 239.3,465.1 242.2,465.1 245.0,464.9 247.8,464.9 250.7,465.9 253.5,466.3 256.4,466.4 259.2,466.5 262.1,468.4 264.9,469.8 267.8,473.0 270.6,476.3 273.5,478.9 276.3,482.2 279.1,485.8 282.0,488.6 284.8,491.5 287.7,494.2 290.5,496.1 293.4,496.6 296.2,497.0 299.1,497.4 301.9,497.0 304.8,497.0 307.6,496.2 310.4,495.9 313.3,497.1 316.1,498.1 319.0,499.1 321.8,500.1 324.7,501.4 327.5,503.1 330.4,505.3 333.2,508.5 336.1,511.7 338.9,513.9 341.7,514.9 344.6,515.6 347.4,516.0 350.3,515.3 353.1,514.7 356.0,514.3 358.8,513.2 361.7,511.6 364.5,510.3 367.4,508.8 370.2,507.5 373.0,505.9 375.9,504.7 378.7,503.8 381.6,502.8 384.4,502.2 387.3,502.5 390.1,503.5 393.0,503.8 395.8,503.4 398.7,503.4 401.5,504.1 404.4,503.9 407.2,503.7 410.0,503.0 412.9,501.4 415.7,499.6 418.6,497.9 421.4,497.0 424.3,496.5 427.1,494.5 430.0,492.6 432.8,491.1 435.7,489.9 438.5,487.9 441.3,485.6 444.2,483.5 447.0,481.0 449.9,478.1 452.7,477.5 455.6,477.2 458.4,476.9 461.3,476.9 464.1,476.4 467.0,476.1 469.8,475.7 472.6,475.7 475.5,476.0 478.3,476.2 481.2,476.2 484.0,476.8 486.9,477.2 489.7,478.8 492.6,479.2 495.4,479.9 498.3,480.4 501.1,481.6 503.9,482.9 506.8,484.8 509.6,486.7 512.5,487.7 515.3,488.9 518.2,489.7 521.0,491.3 523.9,492.9 526.7,494.0 529.6,494.2 532.4,493.6 535.2,492.2 538.1,491.0 540.9,488.7 543.8,485.8 546.6,482.2 549.5,479.6 552.3,476.7 555.2,473.6 558.0,472.1 560.9,469.0 563.7,465.7 566.6,464.3 569.4,463.6 572.2,462.7 575.1,461.5 577.9,459.6 580.8,457.4 583.6,455.4 586.5,454.9 589.3,454.0 592.2,453.2 595.0,453.0 597.9,453.5 600.7,454.8 603.5,455.8 606.4,455.9 609.2,456.8 612.1,458.1 614.9,458.9 617.8,460.3 620.6,462.4 623.5,465.2 626.3,467.5 629.2,469.1 632.0,472.3 634.8,474.1 637.7,474.3 640.5,475.1 643.4,477.2 646.2,479.2 649.1,480.4 651.9,481.7 654.8,485.0 657.6,488.3 660.5,491.4 663.3,493.5 666.1,494.9 669.0,496.7 671.8,497.1 674.7,497.5 677.5,499.0 680.4,500.0 683.2,498.3 686.1,496.6 688.9,494.5 691.8,492.2 694.6,489.0 697.4,485.6 700.3,483.8 703.1,482.6 706.0,481.2 708.8,480.0 711.7,479.0 714.5,478.7 717.4,478.6 720.2,478.8 723.1,480.5 725.9,481.6 728.7,483.8 731.6,487.3 734.4,491.3 737.3,495.0 740.1,497.3 743.0,499.8 745.8,503.1 748.7,505.6 751.5,507.4 754.4,509.2 757.2,508.5 760.1,507.4 762.9,506.2 765.7,505.5 768.6,504.2 771.4,502.1 774.3,500.7 777.1,498.9 780.0,496.6 782.8,493.4 785.7,488.7 788.5,483.9 791.4,480.6 794.2,476.5 797.0,474.0 799.9,471.2 802.7,469.4 805.6,467.8 808.4,465.7 811.3,464.1 814.1,462.4 817.0,460.8 819.8,460.2 822.7,460.8 825.5,462.3 828.3,464.5 831.2,466.2 834.0,469.6 836.9,473.6 839.7,477.5 842.6,480.4 845.4,483.1 848.3,486.2" stroke="#f7d64c" stroke-width="1" stroke-opacity="0.85"/>
<polyline points="6.0,485.4 8.8,480.4 11.7,476.6 14.5,476.6 17.3,477.8 20.2,480.5 23.0,470.4 25.9,466.5 28.7,472.7 31.6,474.1 34.4,475.6 37.3,474.4 40.1,469.1 43.0,470.8 45.8,450.0 48.7,439.5 51.5,437.1 54.3,432.1 57.2,450.5 60.0,445.1 62.9,470.1 65.7,467.7 68.6,466.8 71.4,471.2 74.3,472.8 77.1,467.7 80.0,467.0 82.8,461.1 85.6,464.9 88.5,453.9 91.3,456.5 94.2,441.4 97.0,439.7 99.9,437.2 102.7,441.6 105.6,436.6 108.4,432.9 111.3,419.3 114.1,413.8 116.9,418.2 119.8,415.5 122.6,428.5 125.5,421.7 128.3,418.9 131.2,417.2 134.0,462.9 136.9,453.3 139.7,450.0 142.6,454.3 145.4,460.5 148.2,449.5 151.1,447.7 153.9,445.7 156.8,443.8 159.6,432.6 162.5,423.1 165.3,438.8 168.2,483.1 171.0,477.8 173.9,472.3 176.7,477.1 179.5,483.0 182.4,488.6 185.2,481.7 188.1,485.8 190.9,491.0 193.8,484.6 196.6,477.4 199.5,469.5 202.3,464.9 205.2,466.7 208.0,467.1 210.9,456.0 213.7,470.2 216.5,472.2 219.4,478.6 222.2,472.2 225.1,472.3 227.9,464.9 230.8,461.2 233.6,458.1 236.5,453.5 239.3,453.4 242.2,464.8 245.0,464.3 247.8,467.4 250.7,469.4 253.5,476.3 256.4,473.0 259.2,480.5 262.1,498.1 264.9,492.8 267.8,508.9 270.6,507.1 273.5,495.3 276.3,499.0 279.1,503.8 282.0,503.9 284.8,505.2 287.7,506.0 290.5,495.2 293.4,483.8 296.2,478.5 299.1,485.5 301.9,492.4 304.8,494.0 307.6,496.4 310.4,503.7 313.3,511.4 316.1,513.4 319.0,517.6 321.8,517.8 324.7,524.3 327.5,529.0 330.4,526.1 333.2,528.1 336.1,524.0 338.9,516.7 341.7,506.5 344.6,503.4 347.4,502.6 350.3,493.7 353.1,502.9 356.0,507.8 358.8,502.0 361.7,495.2 364.5,506.6 367.4,507.6 370.2,508.1 373.0,506.1 375.9,506.6 378.7,503.8 381.6,493.6 384.4,494.3 387.3,506.4 390.1,508.8 393.0,506.1 395.8,501.8 398.7,502.5 401.5,505.5 404.4,503.5 407.2,504.3 410.0,498.8 412.9,484.3 415.7,480.7 418.6,479.8 421.4,480.7 424.3,487.8 427.1,478.8 430.0,481.4 432.8,486.2 435.7,484.6 438.5,473.8 441.3,474.5 444.2,473.4 447.0,469.7 449.9,457.6 452.7,476.3 455.6,475.9 458.4,475.8 461.3,481.0 464.1,480.6 467.0,474.2 469.8,475.9 472.6,486.6 475.5,488.9 478.3,476.8 481.2,474.6 484.0,480.6 486.9,476.7 489.7,479.4 492.6,482.0 495.4,484.9 498.3,483.8 501.1,497.0 503.9,499.0 506.8,500.7 509.6,502.2 512.5,501.5 515.3,505.1 518.2,488.2 521.0,497.1 523.9,503.1 526.7,492.5 529.6,481.3 532.4,474.1 535.2,464.7 538.1,468.0 540.9,464.8 543.8,457.6 546.6,450.3 549.5,465.4 552.3,461.9 555.2,461.1 558.0,466.8 560.9,454.5 563.7,456.3 566.6,473.4 569.4,471.6 572.2,460.9 575.1,447.8 577.9,441.8 580.8,434.4 583.6,428.8 586.5,443.6 589.3,453.7 592.2,449.5 595.0,459.5 597.9,472.9 600.7,473.3 603.5,469.7 606.4,475.5 609.2,484.3 612.1,479.2 614.9,458.9 617.8,460.9 620.6,464.1 623.5,467.9 626.3,476.3 629.2,475.7 632.0,494.2 634.8,483.9 637.7,475.7 640.5,484.5 643.4,500.2 646.2,503.2 649.1,501.3 651.9,496.9 654.8,504.9 657.6,507.9 660.5,507.2 663.3,497.4 666.1,494.7 669.0,501.0 671.8,499.9 674.7,489.7 677.5,497.2 680.4,498.7 683.2,476.1 686.1,479.6 688.9,472.4 691.8,464.7 694.6,459.0 697.4,460.7 700.3,482.5 703.1,480.7 706.0,474.2 708.8,484.7 711.7,486.1 714.5,485.6 717.4,495.5 720.2,501.3 723.1,500.3 725.9,495.0 728.7,502.8 731.6,513.4 734.4,515.9 737.3,511.6 740.1,515.6 743.0,515.6 745.8,519.9 748.7,520.1 751.5,511.2 754.4,510.4 757.2,485.3 760.1,485.7 762.9,484.2 765.7,484.5 768.6,485.7 771.4,484.2 774.3,496.3 777.1,486.0 780.0,483.5 782.8,471.0 785.7,454.0 788.5,452.1 791.4,466.0 794.2,453.2 797.0,450.1 799.9,446.1 802.7,459.0 805.6,461.8 808.4,457.0 811.3,461.9 814.1,471.4 817.0,464.4 819.8,474.5 822.7,479.2 825.5,475.5 828.3,482.5 831.2,490.4 834.0,500.8 836.9,506.2 839.7,500.8 842.6,499.2 845.4,499.1 848.3,500.8" stroke="#7e57c2" stroke-width="2.3"/>
</g>
<g stroke="#e9ebf0" stroke-width="1" fill="none">
<rect x="7.5" y="19.5" width="971.5" height="537"/>
<line x1="920.5" y1="19.5" x2="920.5" y2="556.5"/>
<line x1="7.5" y1="406" x2="979" y2="406"/>
<line x1="7.5" y1="536.5" x2="979" y2="536.5"/>
</g>
<g font-size="9">
<text x="927" y="52.9" fill="#131722" textLength="34.1" lengthAdjust="spacingAndGlyphs" stroke="#131722" stroke-width="0.18">4,800.00</text>
<text x="927" y="81.9" fill="#131722" textLength="34.1" lengthAdjust="spacingAndGlyphs" stroke="#131722" stroke-width="0.18">4,400.00</text>
<text x="927" y="110.9" fill="#131722" textLength="34.1" lengthAdjust="spacingAndGlyphs" stroke="#131722" stroke-width="0.18">4,000.00</text>
<text x="927" y="139.9" fill="#131722" textLength="34.1" lengthAdjust="spacingAndGlyphs" stroke="#131722" stroke-width="0.18">3,600.00</text>
<text x="927" y="168.9" fill="#131722" textLength="34.1" lengthAdjust="spacingAndGlyphs" stroke="#131722" stroke-width="0.18">3,200.00</text>
<text x="927" y="198" fill="#131722" textLength="34.1" lengthAdjust="spacingAndGlyphs" stroke="#131722" stroke-width="0.18">2,800.00</text>
<text x="927" y="227" fill="#131722" textLength="34.1" lengthAdjust="spacingAndGlyphs" stroke="#131722" stroke-width="0.18">2,400.00</text>
<text x="927" y="256" fill="#131722" textLength="34.1" lengthAdjust="spacingAndGlyphs" stroke="#131722" stroke-width="0.18">2,000.00</text>
<text x="927" y="285" fill="#131722" textLength="34.1" lengthAdjust="spacingAndGlyphs" stroke="#131722" stroke-width="0.18">1,600.00</text>
<text x="927" y="314" fill="#131722" textLength="34.1" lengthAdjust="spacingAndGlyphs" stroke="#131722" stroke-width="0.18">1,200.00</text>
<text x="927" y="343.1" fill="#131722" textLength="26.2" lengthAdjust="spacingAndGlyphs" stroke="#131722" stroke-width="0.18">800.00</text>
<text x="927" y="372.1" fill="#131722" textLength="26.2" lengthAdjust="spacingAndGlyphs" stroke="#131722" stroke-width="0.18">400.00</text>
<text x="927" y="401.1" fill="#131722" textLength="16.8" lengthAdjust="spacingAndGlyphs" stroke="#131722" stroke-width="0.18">0.00</text>
<text x="927" y="438.4" fill="#131722" textLength="21.5" lengthAdjust="spacingAndGlyphs" stroke="#131722" stroke-width="0.18">80.00</text>
<text x="927" y="473" fill="#131722" textLength="21.5" lengthAdjust="spacingAndGlyphs" stroke="#131722" stroke-width="0.18">60.00</text>
<text x="927" y="507.6" fill="#131722" textLength="21.5" lengthAdjust="spacingAndGlyphs" stroke="#131722" stroke-width="0.18">40.00</text>
</g>
<rect x="921" y="20" width="57.5" height="24.2" fill="#fff"/>
<g font-size="9">
<text x="34.2" y="548.8" fill="#131722" textLength="11.1" lengthAdjust="spacingAndGlyphs" stroke="#131722" stroke-width="0.18">Jul</text>
<text x="104.5" y="548.8" fill="#131722" textLength="19.2" lengthAdjust="spacingAndGlyphs" font-weight="bold" stroke="#131722" stroke-width="0.18">2021</text>
<text x="182.2" y="548.8" fill="#131722" textLength="11.1" lengthAdjust="spacingAndGlyphs" stroke="#131722" stroke-width="0.18">Jul</text>
<text x="252.5" y="548.8" fill="#131722" textLength="19.2" lengthAdjust="spacingAndGlyphs" font-weight="bold" stroke="#131722" stroke-width="0.18">2022</text>
<text x="330.2" y="548.8" fill="#131722" textLength="11.1" lengthAdjust="spacingAndGlyphs" stroke="#131722" stroke-width="0.18">Jul</text>
<text x="400.4" y="548.8" fill="#131722" textLength="19.2" lengthAdjust="spacingAndGlyphs" font-weight="bold" stroke="#131722" stroke-width="0.18">2023</text>
<text x="478.1" y="548.8" fill="#131722" textLength="11.1" lengthAdjust="spacingAndGlyphs" stroke="#131722" stroke-width="0.18">Jul</text>
<text x="548.4" y="548.8" fill="#131722" textLength="19.2" lengthAdjust="spacingAndGlyphs" font-weight="bold" stroke="#131722" stroke-width="0.18">2024</text>
<text x="626.1" y="548.8" fill="#131722" textLength="11.1" lengthAdjust="spacingAndGlyphs" stroke="#131722" stroke-width="0.18">Jul</text>
<text x="699.2" y="548.8" fill="#131722" textLength="19.2" lengthAdjust="spacingAndGlyphs" font-weight="bold" stroke="#131722" stroke-width="0.18">2025</text>
<text x="776.9" y="548.8" fill="#131722" textLength="11.1" lengthAdjust="spacingAndGlyphs" stroke="#131722" stroke-width="0.18">Jul</text>
<text x="847.2" y="548.8" fill="#131722" textLength="19.2" lengthAdjust="spacingAndGlyphs" font-weight="bold" stroke="#131722" stroke-width="0.18">2026</text>
</g>
<text x="7.3" y="13.6" fill="#131722" textLength="264.0" lengthAdjust="spacingAndGlyphs" font-size="9" stroke="#131722" stroke-width="0.18">ranadagger created with TradingView.com, Dec 19, 2025 19:39 UTC</text>
<g font-size="9">
<text x="13.6" y="33.5" fill="#131722" textLength="141.2" lengthAdjust="spacingAndGlyphs" stroke="#131722" stroke-width="0.18">Ethereum / TetherUS · 1W · Binance</text>
<text x="161.1" y="33.5" fill="#131722" textLength="5.6" lengthAdjust="spacingAndGlyphs" stroke="#131722" stroke-width="0.18">O</text>
<text x="167.4" y="33.5" fill="#ef5350" textLength="33.8" lengthAdjust="spacingAndGlyphs">3,063.49</text>
<text x="206.7" y="33.5" fill="#131722" textLength="4.9" lengthAdjust="spacingAndGlyphs" stroke="#131722" stroke-width="0.18">H</text>
<text x="211.9" y="33.5" fill="#ef5350" textLength="33.8" lengthAdjust="spacingAndGlyphs">3,177.50</text>
<text x="251.5" y="33.5" fill="#131722" textLength="3.9" lengthAdjust="spacingAndGlyphs" stroke="#131722" stroke-width="0.18">L</text>
<text x="255.7" y="33.5" fill="#ef5350" textLength="33.8" lengthAdjust="spacingAndGlyphs">2,775.19</text>
<text x="295" y="33.5" fill="#131722" textLength="4.9" lengthAdjust="spacingAndGlyphs" stroke="#131722" stroke-width="0.18">C</text>
<text x="300.4" y="33.5" fill="#ef5350" textLength="33.8" lengthAdjust="spacingAndGlyphs">2,991.32</text>
<text x="339.7" y="33.5" fill="#ef5350" textLength="60.3" lengthAdjust="spacingAndGlyphs">−72.18 (−2.36%)</text>
<text x="13.2" y="45.9" fill="#131722" textLength="59.5" lengthAdjust="spacingAndGlyphs" stroke="#131722" stroke-width="0.18">EMA (20, close)</text>
<text x="78.4" y="45.9" fill="#2962ff" textLength="33.8" lengthAdjust="spacingAndGlyphs">3,454.93</text>
<text x="13.2" y="58.2" fill="#131722" textLength="59.0" lengthAdjust="spacingAndGlyphs" stroke="#131722" stroke-width="0.18">SMA (50, close)</text>
<text x="78.4" y="58.2" fill="#f23645" textLength="33.8" lengthAdjust="spacingAndGlyphs">3,070.96</text>
<text x="13.2" y="420.4" fill="#131722" textLength="55.3" lengthAdjust="spacingAndGlyphs" stroke="#131722" stroke-width="0.18">RSI (14, close)</text>
<text x="74.3" y="420.4" fill="#7e57c2" textLength="21.2" lengthAdjust="spacingAndGlyphs">42.63</text>
<text x="100.9" y="420.4" fill="#f5c935" textLength="21.0" lengthAdjust="spacingAndGlyphs">51.05</text>
</g>
<rect x="924" y="22.5" width="51" height="18.7" rx="3" fill="#fff" stroke="#e9ebf0"/>
<text x="930" y="35.4" fill="#131722" textLength="19.2" lengthAdjust="spacingAndGlyphs" font-size="9" stroke="#131722" stroke-width="0.18">USDT</text>
<g font-size="9">
<g clip-path="url(#ca)">
<rect x="921.0" y="39.4" width="44.0" height="11.9" rx="2" fill="#0a0ad2"/>
<text x="927.2" y="48.2" fill="#fff" textLength="33.8" lengthAdjust="spacingAndGlyphs" stroke="#fff" stroke-width="0.25">4,868.00</text>
</g>
<rect x="921.0" y="328.4" width="36.0" height="11.9" rx="2" fill="#0a0ad2"/>
<text x="927.2" y="337.1" fill="#fff" textLength="26.2" lengthAdjust="spacingAndGlyphs" stroke="#fff" stroke-width="0.25">882.00</text>
<rect x="897.7" y="142.7" width="67.3" height="11.9" rx="2" fill="#2962ff"/>
<line x1="920.5" y1="142.7" x2="920.5" y2="154.6" stroke="#fff" stroke-opacity="0.45" stroke-width="0.8"/>
<text x="901.3" y="151.3" fill="#fff" textLength="16.2" lengthAdjust="spacingAndGlyphs" stroke="#fff" stroke-width="0.25">EMA</text>
<text x="927.2" y="151.3" fill="#fff" textLength="33.8" lengthAdjust="spacingAndGlyphs" stroke="#fff" stroke-width="0.25">3,454.93</text>
<rect x="884.0" y="163.3" width="81.0" height="11.9" rx="2" fill="#f23645"/>
<line x1="920.5" y1="163.3" x2="920.5" y2="175.2" stroke="#fff" stroke-opacity="0.45" stroke-width="0.8"/>
<text x="887.6" y="172.3" fill="#fff" textLength="30.0" lengthAdjust="spacingAndGlyphs" stroke="#fff" stroke-width="0.25">SMA:MA</text>
<text x="927.2" y="172.3" fill="#fff" textLength="33.8" lengthAdjust="spacingAndGlyphs" stroke="#fff" stroke-width="0.25">3,070.96</text>
<rect x="921.0" y="176.0" width="53.7" height="32.0" rx="2" fill="#ef5350"/>
<rect x="878.3" y="176.0" width="51.7" height="11.7" rx="2" fill="#ef5350"/>
<line x1="920.5" y1="176" x2="920.5" y2="187.7" stroke="#fff" stroke-opacity="0.45" stroke-width="0.8"/>
<text x="881.7" y="184.6" fill="#fff" textLength="35.3" lengthAdjust="spacingAndGlyphs" stroke="#fff" stroke-width="0.25">ETHUSDT</text>
<text x="927.2" y="184.6" fill="#fff" textLength="33.8" lengthAdjust="spacingAndGlyphs" stroke="#fff" stroke-width="0.25">2,991.32</text>
<text x="927.2" y="194.3" fill="#fff" textLength="43.0" lengthAdjust="spacingAndGlyphs" stroke="#fff" stroke-width="0.25">+1,561.66%</text>
<text x="927.2" y="204.2" fill="#fff" textLength="20.4" lengthAdjust="spacingAndGlyphs" stroke="#fff" stroke-width="0.25">2d 5h</text>
<rect x="863.1" y="479.9" width="89.6" height="11.9" rx="2" fill="#fdd835"/>
<line x1="920.5" y1="479.9" x2="920.5" y2="491.8" stroke="#fff" stroke-opacity="0.45" stroke-width="0.8"/>
<text x="866.4" y="488.5" fill="#131722" textLength="51.0" lengthAdjust="spacingAndGlyphs" stroke="#131722" stroke-width="0.18">RSI-based MA</text>
<text x="927.3" y="488.5" fill="#131722" textLength="20.8" lengthAdjust="spacingAndGlyphs" stroke="#131722" stroke-width="0.18">51.05</text>
<rect x="902.1" y="494.4" width="50.6" height="12.0" rx="2" fill="#7e57c2"/>
<line x1="920.5" y1="494.4" x2="920.5" y2="506.4" stroke="#fff" stroke-opacity="0.45" stroke-width="0.8"/>
<text x="906" y="503.2" fill="#fff" textLength="11.3" lengthAdjust="spacingAndGlyphs" stroke="#fff" stroke-width="0.25">RSI</text>
<text x="926.8" y="503.2" fill="#fff" textLength="21.2" lengthAdjust="spacingAndGlyphs" stroke="#fff" stroke-width="0.25">42.63</text>
</g>
<g transform="translate(848.6,396.8)"><circle r="7.4" fill="#fff" stroke="#9c3ab4" stroke-width="1"/><path d="M1.4 -3.6L-2.7 0.55H-0.4L-1.7 3.8L2.9 -0.65H0.6Z" fill="#9c27b0"/><circle cx="5.15" cy="-4.9" r="3.4" fill="#fff"/><circle cx="5.15" cy="-4.9" r="2.1" fill="#e53950"/></g>
<g fill="#101014"><path d="M8.9 572.3H17.1V582.8H13.1V576.6H8.9Z"/><circle cx="20.9" cy="574.4" r="2"/><path d="M25 572.3H30.2L26.6 582.8H21.5Z"/></g>
<text x="35.6" y="582.8" font-size="14.7" font-weight="bold" fill="#101014" textLength="86.8" lengthAdjust="spacingAndGlyphs">TradingView</text>
</svg>
</body></html>
